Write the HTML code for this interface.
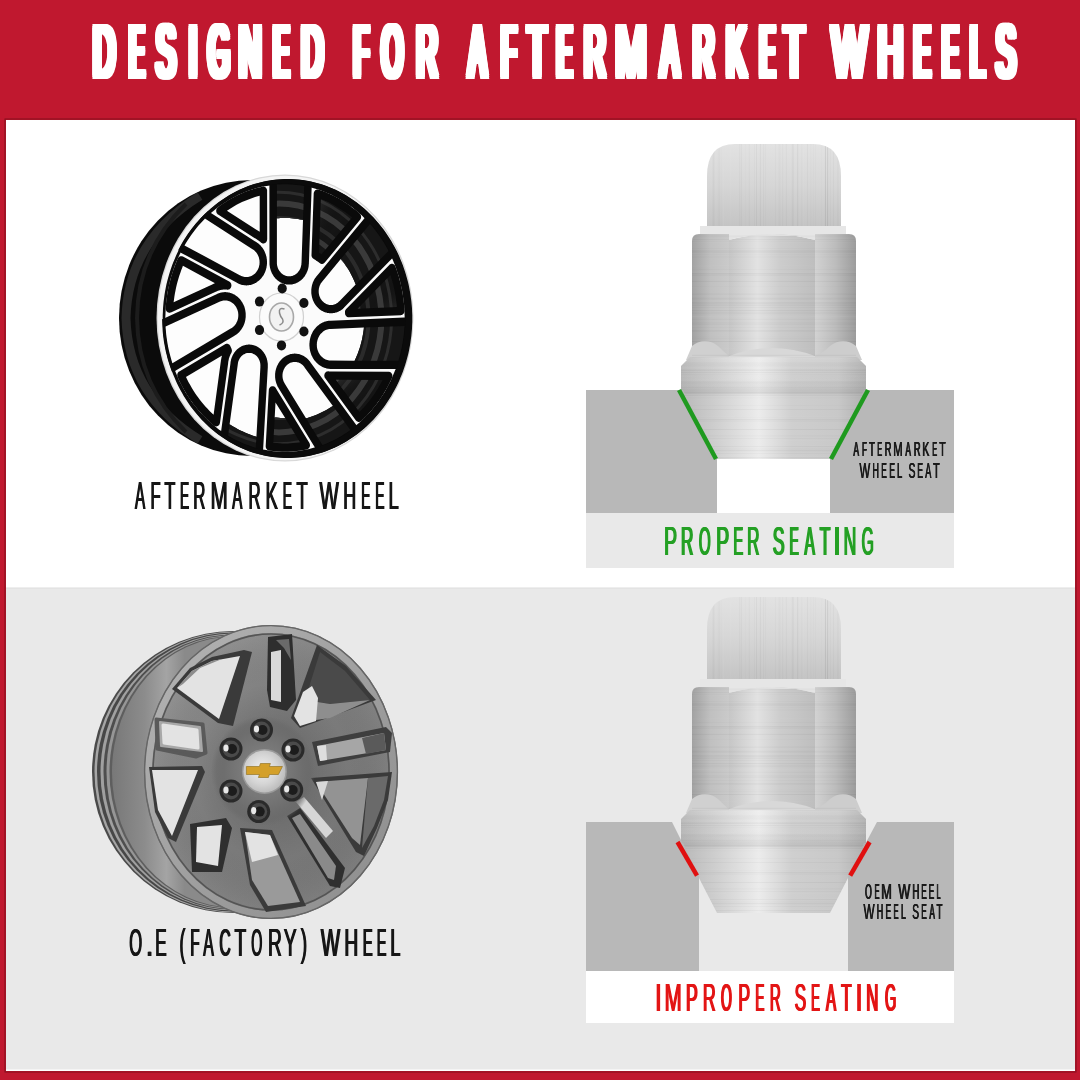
<!DOCTYPE html>
<html><head><meta charset="utf-8"><title>Designed for Aftermarket Wheels</title>
<style>
html,body{margin:0;padding:0;}
body{width:1080px;height:1080px;overflow:hidden;background:#c0182f;font-family:"Liberation Sans",sans-serif;}
svg{display:block;font-family:"Liberation Sans",sans-serif;will-change:transform;}
</style></head><body>
<svg width="1080" height="1080" viewBox="0 0 1080 1080">

<defs>

<linearGradient id="w1dk" x1="0" y1="0" x2="1" y2="1"><stop offset="0" stop-color="#3a3a3a" stop-opacity="0.6"/><stop offset="0.5" stop-color="#000" stop-opacity="0"/><stop offset="1" stop-color="#333" stop-opacity="0.5"/></linearGradient>

<linearGradient id="w2lipg" x1="0" y1="0" x2="1" y2="1"><stop offset="0" stop-color="#b4b4b4"/><stop offset="0.5" stop-color="#a0a0a0"/><stop offset="1" stop-color="#8c8c8c"/></linearGradient>
<linearGradient id="w2barrel" x1="0" y1="0" x2="0.3" y2="0"><stop offset="0" stop-color="#787878"/><stop offset="0.45" stop-color="#8c8c8c"/><stop offset="0.75" stop-color="#a4a4a4"/><stop offset="1" stop-color="#8a8a8a"/></linearGradient>
<linearGradient id="w2face" x1="0" y1="0" x2="1" y2="1"><stop offset="0" stop-color="#929292"/><stop offset="0.45" stop-color="#7c7c7c"/><stop offset="1" stop-color="#727272"/></linearGradient>
<radialGradient id="w2shade" cx="0.5" cy="0.5" r="0.5"><stop offset="0.3" stop-color="#000" stop-opacity="0.10"/><stop offset="0.6" stop-color="#000" stop-opacity="0"/><stop offset="0.92" stop-color="#fff" stop-opacity="0.05"/><stop offset="1" stop-color="#000" stop-opacity="0.1"/></radialGradient>
<radialGradient id="w2hub" cx="0.5" cy="0.5" r="0.5"><stop offset="0" stop-color="#888"/><stop offset="0.75" stop-color="#6e6e6e"/><stop offset="0.9" stop-color="#6a6a6a" stop-opacity="0.6"/><stop offset="1" stop-color="#6a6a6a" stop-opacity="0"/></radialGradient>
<radialGradient id="w2cap" cx="0.45" cy="0.45" r="0.6"><stop offset="0" stop-color="#f2f2f2"/><stop offset="0.6" stop-color="#d4d4d4"/><stop offset="1" stop-color="#b8b8b8"/></radialGradient>

 <linearGradient id="capg" x1="0" y1="0" x2="0" y2="1">
  <stop offset="0" stop-color="#e2e2e2"/><stop offset="0.5" stop-color="#d6d6d6"/><stop offset="1" stop-color="#c4c4c4"/>
 </linearGradient>
 <linearGradient id="hexL" x1="0" y1="0" x2="1" y2="0">
  <stop offset="0" stop-color="#a2a2a2"/><stop offset="0.5" stop-color="#c0c0c0"/><stop offset="1" stop-color="#cacaca"/>
 </linearGradient>
 <linearGradient id="hexC" x1="0" y1="0" x2="1" y2="0">
  <stop offset="0" stop-color="#c6c6c6"/><stop offset="0.33" stop-color="#e2e2e2"/><stop offset="0.6" stop-color="#cccccc"/><stop offset="1" stop-color="#bebebe"/>
 </linearGradient>
 <linearGradient id="hexR" x1="0" y1="0" x2="1" y2="0">
  <stop offset="0" stop-color="#d2d2d2"/><stop offset="0.5" stop-color="#bcbcbc"/><stop offset="1" stop-color="#9c9c9c"/>
 </linearGradient>
 <linearGradient id="flg" x1="0" y1="0" x2="1" y2="0">
  <stop offset="0" stop-color="#b8b8b8"/><stop offset="0.2" stop-color="#d0d0d0"/><stop offset="0.42" stop-color="#ececec"/><stop offset="0.6" stop-color="#cfcfcf"/><stop offset="0.85" stop-color="#c8c8c8"/><stop offset="1" stop-color="#b0b0b0"/>
 </linearGradient>
 <linearGradient id="flv" x1="0" y1="0" x2="0" y2="1">
  <stop offset="0" stop-color="#fff" stop-opacity="0.15"/><stop offset="0.5" stop-color="#fff" stop-opacity="0"/><stop offset="1" stop-color="#000" stop-opacity="0.08"/>
 </linearGradient>
 <clipPath id="capclip"><path d="M707,226 L707,176 Q707,144 735,144 L813,144 Q841,144 841,176 L841,226 Z"/></clipPath>
 <clipPath id="bodyclip"><path d="M692,358 L692,241 Q692,234 699,234 L849,234 Q856,234 856,241 L856,358 L866,366 L866,392 L830,460 L717,460 L681,392 L681,366 Z"/></clipPath>
 <g id="nut">
  <!-- cap -->
  <path d="M707,226 L707,176 Q707,144 735,144 L813,144 Q841,144 841,176 L841,226 Z" fill="url(#capg)"/>
  <rect x="700" y="226" width="146" height="10" fill="#e6e6e6"/>
  <!-- hex body -->
  <path d="M692,358 L692,241 Q692,234 699,234 L729,234 L729,358 Z" fill="url(#hexL)"/>
  <path d="M729,358 L729,240 Q772,228 815,240 L815,358 Z" fill="url(#hexC)"/>
  <path d="M815,358 L815,234 L849,234 Q856,234 856,241 L856,358 Z" fill="url(#hexR)"/>
  <path d="M729,240 Q772,228 815,240 L815,236 L729,236 Z" fill="#e4e4e4"/>
  <!-- hex bottom chamfers -->
  <path d="M692,346 Q705,336 718,346 Q724,352 729,356 L729,360 L686,360 Z" fill="#d0d0d0"/>
  <path d="M729,356 Q772,340 815,356 L815,360 L729,360 Z" fill="#d8d8d8"/>
  <path d="M815,356 Q824,352 830,346 Q843,336 856,346 L862,360 L815,360 Z" fill="#cdcdcd"/>
  <!-- flange -->
  <path d="M681,392 L681,366 L690,357 L857,357 L866,366 L866,392 Z" fill="url(#flg)"/>
  <path d="M681,392 L681,366 L690,357 L857,357 L866,366 L866,392 Z" fill="url(#flv)"/>
  <!-- cone -->
  <path d="M681,390 L866,390 L830,460 L717,460 Z" fill="url(#flg)"/>
  <path d="M683,390 L864,390 L862,394 L685,394 Z" fill="#000" fill-opacity="0.06"/>
  <g clip-path="url(#capclip)"><g transform="translate(707,140)"><rect x="31.9" y="0" width="0.7" height="90" fill="#000" opacity="0.034"/><rect x="83.8" y="0" width="0.8" height="90" fill="#000" opacity="0.017"/><rect x="34.8" y="0" width="0.6" height="90" fill="#fff" opacity="0.023"/><rect x="112.1" y="0" width="0.5" height="90" fill="#fff" opacity="0.032"/><rect x="85.1" y="0" width="0.8" height="90" fill="#000" opacity="0.045"/><rect x="90.0" y="0" width="0.7" height="90" fill="#fff" opacity="0.017"/><rect x="40.4" y="0" width="0.6" height="90" fill="#fff" opacity="0.016"/><rect x="96.3" y="0" width="0.9" height="90" fill="#fff" opacity="0.046"/><rect x="52.9" y="0" width="0.9" height="90" fill="#000" opacity="0.043"/><rect x="117.8" y="0" width="0.5" height="90" fill="#000" opacity="0.018"/><rect x="129.4" y="0" width="0.6" height="90" fill="#fff" opacity="0.030"/><rect x="68.0" y="0" width="0.7" height="90" fill="#000" opacity="0.029"/><rect x="78.3" y="0" width="0.9" height="90" fill="#fff" opacity="0.047"/><rect x="114.8" y="0" width="0.5" height="90" fill="#fff" opacity="0.050"/><rect x="115.3" y="0" width="0.7" height="90" fill="#fff" opacity="0.049"/><rect x="95.7" y="0" width="0.7" height="90" fill="#fff" opacity="0.022"/><rect x="38.2" y="0" width="0.9" height="90" fill="#fff" opacity="0.017"/><rect x="11.9" y="0" width="0.5" height="90" fill="#000" opacity="0.043"/><rect x="39.4" y="0" width="0.4" height="90" fill="#fff" opacity="0.042"/><rect x="82.3" y="0" width="0.6" height="90" fill="#fff" opacity="0.017"/><rect x="118.0" y="0" width="0.9" height="90" fill="#000" opacity="0.049"/><rect x="41.5" y="0" width="0.4" height="90" fill="#000" opacity="0.018"/><rect x="26.4" y="0" width="0.5" height="90" fill="#fff" opacity="0.029"/><rect x="5.7" y="0" width="0.9" height="90" fill="#000" opacity="0.045"/><rect x="120.2" y="0" width="0.7" height="90" fill="#000" opacity="0.028"/><rect x="86.3" y="0" width="0.7" height="90" fill="#000" opacity="0.036"/><rect x="126.0" y="0" width="0.8" height="90" fill="#000" opacity="0.033"/><rect x="31.8" y="0" width="0.7" height="90" fill="#fff" opacity="0.026"/><rect x="73.5" y="0" width="0.7" height="90" fill="#000" opacity="0.015"/><rect x="2.7" y="0" width="0.4" height="90" fill="#fff" opacity="0.037"/><rect x="84.1" y="0" width="0.6" height="90" fill="#fff" opacity="0.031"/><rect x="94.7" y="0" width="0.4" height="90" fill="#000" opacity="0.041"/><rect x="90.6" y="0" width="0.6" height="90" fill="#000" opacity="0.049"/><rect x="79.4" y="0" width="0.6" height="90" fill="#000" opacity="0.026"/><rect x="49.5" y="0" width="0.6" height="90" fill="#000" opacity="0.036"/><rect x="103.5" y="0" width="0.8" height="90" fill="#000" opacity="0.016"/><rect x="41.5" y="0" width="0.5" height="90" fill="#fff" opacity="0.023"/><rect x="25.1" y="0" width="0.5" height="90" fill="#fff" opacity="0.030"/><rect x="43.1" y="0" width="0.6" height="90" fill="#fff" opacity="0.027"/><rect x="114.6" y="0" width="0.7" height="90" fill="#000" opacity="0.021"/><rect x="118.6" y="0" width="0.5" height="90" fill="#000" opacity="0.031"/><rect x="71.0" y="0" width="0.8" height="90" fill="#fff" opacity="0.022"/><rect x="24.6" y="0" width="0.7" height="90" fill="#fff" opacity="0.025"/><rect x="108.0" y="0" width="0.5" height="90" fill="#000" opacity="0.027"/><rect x="106.4" y="0" width="0.6" height="90" fill="#000" opacity="0.024"/><rect x="56.2" y="0" width="0.5" height="90" fill="#fff" opacity="0.029"/><rect x="0.6" y="0" width="0.9" height="90" fill="#fff" opacity="0.048"/><rect x="58.2" y="0" width="0.5" height="90" fill="#fff" opacity="0.048"/><rect x="99.9" y="0" width="0.7" height="90" fill="#fff" opacity="0.044"/><rect x="38.7" y="0" width="0.4" height="90" fill="#000" opacity="0.027"/><rect x="78.9" y="0" width="0.4" height="90" fill="#fff" opacity="0.025"/><rect x="121.1" y="0" width="0.8" height="90" fill="#fff" opacity="0.039"/><rect x="120.6" y="0" width="0.8" height="90" fill="#000" opacity="0.035"/><rect x="23.0" y="0" width="0.7" height="90" fill="#fff" opacity="0.025"/><rect x="55.4" y="0" width="0.6" height="90" fill="#fff" opacity="0.048"/><rect x="33.8" y="0" width="0.8" height="90" fill="#000" opacity="0.045"/><rect x="47.1" y="0" width="0.8" height="90" fill="#000" opacity="0.022"/><rect x="23.0" y="0" width="0.8" height="90" fill="#fff" opacity="0.043"/><rect x="110.3" y="0" width="0.8" height="90" fill="#fff" opacity="0.015"/><rect x="6.7" y="0" width="0.7" height="90" fill="#000" opacity="0.024"/><rect x="56.7" y="0" width="0.4" height="90" fill="#fff" opacity="0.032"/><rect x="7.3" y="0" width="0.4" height="90" fill="#000" opacity="0.019"/><rect x="130.6" y="0" width="0.7" height="90" fill="#000" opacity="0.045"/><rect x="42.3" y="0" width="0.7" height="90" fill="#000" opacity="0.026"/><rect x="78.6" y="0" width="0.6" height="90" fill="#000" opacity="0.028"/><rect x="16.6" y="0" width="0.6" height="90" fill="#fff" opacity="0.034"/><rect x="10.7" y="0" width="0.7" height="90" fill="#000" opacity="0.021"/><rect x="104.9" y="0" width="0.7" height="90" fill="#fff" opacity="0.028"/><rect x="57.8" y="0" width="0.8" height="90" fill="#000" opacity="0.028"/><rect x="56.3" y="0" width="0.5" height="90" fill="#000" opacity="0.039"/><rect x="71.8" y="0" width="0.6" height="90" fill="#000" opacity="0.039"/><rect x="57.1" y="0" width="0.6" height="90" fill="#fff" opacity="0.046"/><rect x="120.3" y="0" width="0.6" height="90" fill="#000" opacity="0.043"/><rect x="16.5" y="0" width="0.8" height="90" fill="#fff" opacity="0.043"/><rect x="106.2" y="0" width="0.7" height="90" fill="#fff" opacity="0.038"/><rect x="13.8" y="0" width="0.5" height="90" fill="#000" opacity="0.036"/><rect x="103.8" y="0" width="0.4" height="90" fill="#000" opacity="0.017"/><rect x="118.0" y="0" width="0.8" height="90" fill="#000" opacity="0.021"/><rect x="16.3" y="0" width="0.8" height="90" fill="#fff" opacity="0.045"/><rect x="127.6" y="0" width="0.4" height="90" fill="#fff" opacity="0.035"/><rect x="102.8" y="0" width="0.5" height="90" fill="#fff" opacity="0.033"/><rect x="100.4" y="0" width="0.6" height="90" fill="#000" opacity="0.048"/><rect x="75.6" y="0" width="0.5" height="90" fill="#000" opacity="0.044"/><rect x="33.5" y="0" width="0.6" height="90" fill="#fff" opacity="0.037"/><rect x="49.2" y="0" width="0.6" height="90" fill="#000" opacity="0.029"/><rect x="11.2" y="0" width="0.6" height="90" fill="#fff" opacity="0.033"/><rect x="100.2" y="0" width="0.8" height="90" fill="#fff" opacity="0.021"/><rect x="90.3" y="0" width="0.7" height="90" fill="#000" opacity="0.033"/><rect x="120.3" y="0" width="0.8" height="90" fill="#000" opacity="0.020"/><rect x="122.8" y="0" width="0.8" height="90" fill="#000" opacity="0.033"/></g></g>
  <g clip-path="url(#bodyclip)"><g transform="translate(679,230)"><rect x="0" y="43.2" width="190" height="0.7" fill="#000" opacity="0.024"/><rect x="0" y="73.0" width="190" height="0.9" fill="#fff" opacity="0.023"/><rect x="0" y="68.6" width="190" height="0.8" fill="#000" opacity="0.040"/><rect x="0" y="135.6" width="190" height="0.4" fill="#000" opacity="0.024"/><rect x="0" y="111.2" width="190" height="0.6" fill="#000" opacity="0.028"/><rect x="0" y="74.7" width="190" height="0.9" fill="#000" opacity="0.042"/><rect x="0" y="111.3" width="190" height="0.8" fill="#000" opacity="0.036"/><rect x="0" y="190.6" width="190" height="0.8" fill="#000" opacity="0.034"/><rect x="0" y="198.7" width="190" height="0.9" fill="#fff" opacity="0.029"/><rect x="0" y="108.4" width="190" height="0.8" fill="#000" opacity="0.023"/><rect x="0" y="156.7" width="190" height="0.5" fill="#fff" opacity="0.049"/><rect x="0" y="44.0" width="190" height="0.8" fill="#000" opacity="0.024"/><rect x="0" y="199.2" width="190" height="0.8" fill="#000" opacity="0.046"/><rect x="0" y="72.7" width="190" height="0.4" fill="#fff" opacity="0.030"/><rect x="0" y="21.5" width="190" height="0.6" fill="#000" opacity="0.044"/><rect x="0" y="134.6" width="190" height="0.6" fill="#000" opacity="0.039"/><rect x="0" y="101.2" width="190" height="0.7" fill="#000" opacity="0.032"/><rect x="0" y="221.6" width="190" height="0.5" fill="#000" opacity="0.029"/><rect x="0" y="63.7" width="190" height="0.8" fill="#000" opacity="0.038"/><rect x="0" y="210.8" width="190" height="0.6" fill="#fff" opacity="0.018"/><rect x="0" y="179.2" width="190" height="0.7" fill="#000" opacity="0.042"/><rect x="0" y="151.7" width="190" height="0.8" fill="#000" opacity="0.043"/><rect x="0" y="223.0" width="190" height="0.5" fill="#000" opacity="0.039"/><rect x="0" y="114.6" width="190" height="0.7" fill="#fff" opacity="0.027"/><rect x="0" y="131.4" width="190" height="0.7" fill="#fff" opacity="0.021"/><rect x="0" y="41.6" width="190" height="0.5" fill="#fff" opacity="0.046"/><rect x="0" y="216.2" width="190" height="0.8" fill="#000" opacity="0.020"/><rect x="0" y="138.6" width="190" height="0.6" fill="#fff" opacity="0.034"/><rect x="0" y="72.5" width="190" height="0.8" fill="#000" opacity="0.021"/><rect x="0" y="175.0" width="190" height="0.6" fill="#fff" opacity="0.034"/><rect x="0" y="61.7" width="190" height="0.4" fill="#fff" opacity="0.028"/><rect x="0" y="117.1" width="190" height="0.6" fill="#fff" opacity="0.024"/><rect x="0" y="77.2" width="190" height="0.8" fill="#000" opacity="0.029"/><rect x="0" y="81.9" width="190" height="0.5" fill="#000" opacity="0.045"/><rect x="0" y="23.1" width="190" height="0.8" fill="#fff" opacity="0.019"/><rect x="0" y="42.9" width="190" height="0.8" fill="#000" opacity="0.022"/><rect x="0" y="189.3" width="190" height="0.5" fill="#fff" opacity="0.041"/><rect x="0" y="92.4" width="190" height="0.7" fill="#000" opacity="0.022"/><rect x="0" y="46.9" width="190" height="0.4" fill="#fff" opacity="0.024"/><rect x="0" y="186.3" width="190" height="0.6" fill="#fff" opacity="0.046"/><rect x="0" y="128.2" width="190" height="0.9" fill="#fff" opacity="0.035"/><rect x="0" y="159.3" width="190" height="0.6" fill="#fff" opacity="0.025"/><rect x="0" y="139.5" width="190" height="0.8" fill="#000" opacity="0.040"/><rect x="0" y="153.6" width="190" height="0.6" fill="#000" opacity="0.032"/><rect x="0" y="44.9" width="190" height="0.7" fill="#000" opacity="0.034"/><rect x="0" y="149.9" width="190" height="0.9" fill="#fff" opacity="0.031"/><rect x="0" y="207.0" width="190" height="0.7" fill="#fff" opacity="0.020"/><rect x="0" y="11.7" width="190" height="0.4" fill="#000" opacity="0.028"/><rect x="0" y="125.0" width="190" height="0.8" fill="#000" opacity="0.048"/><rect x="0" y="161.2" width="190" height="0.7" fill="#fff" opacity="0.020"/><rect x="0" y="215.1" width="190" height="0.6" fill="#fff" opacity="0.040"/><rect x="0" y="187.1" width="190" height="0.6" fill="#fff" opacity="0.048"/><rect x="0" y="175.6" width="190" height="0.4" fill="#000" opacity="0.032"/><rect x="0" y="18.1" width="190" height="0.6" fill="#000" opacity="0.022"/><rect x="0" y="162.2" width="190" height="0.7" fill="#000" opacity="0.034"/><rect x="0" y="70.7" width="190" height="0.6" fill="#fff" opacity="0.031"/><rect x="0" y="41.9" width="190" height="0.6" fill="#fff" opacity="0.046"/><rect x="0" y="86.1" width="190" height="0.5" fill="#fff" opacity="0.034"/><rect x="0" y="0.6" width="190" height="0.5" fill="#fff" opacity="0.022"/><rect x="0" y="106.7" width="190" height="0.5" fill="#000" opacity="0.022"/><rect x="0" y="93.7" width="190" height="0.5" fill="#000" opacity="0.021"/><rect x="0" y="39.0" width="190" height="0.4" fill="#000" opacity="0.032"/><rect x="0" y="103.9" width="190" height="0.4" fill="#fff" opacity="0.029"/><rect x="0" y="93.6" width="190" height="0.9" fill="#000" opacity="0.029"/><rect x="0" y="50.8" width="190" height="0.5" fill="#000" opacity="0.018"/><rect x="0" y="144.4" width="190" height="0.4" fill="#000" opacity="0.027"/><rect x="0" y="168.8" width="190" height="0.6" fill="#fff" opacity="0.025"/><rect x="0" y="216.4" width="190" height="0.5" fill="#000" opacity="0.026"/><rect x="0" y="189.0" width="190" height="0.4" fill="#000" opacity="0.037"/><rect x="0" y="158.3" width="190" height="0.4" fill="#fff" opacity="0.049"/><rect x="0" y="7.0" width="190" height="0.4" fill="#000" opacity="0.018"/><rect x="0" y="12.5" width="190" height="0.5" fill="#fff" opacity="0.038"/><rect x="0" y="225.9" width="190" height="0.9" fill="#fff" opacity="0.032"/><rect x="0" y="218.1" width="190" height="0.7" fill="#000" opacity="0.016"/><rect x="0" y="219.6" width="190" height="0.8" fill="#000" opacity="0.018"/><rect x="0" y="26.6" width="190" height="0.7" fill="#000" opacity="0.029"/><rect x="0" y="215.4" width="190" height="0.8" fill="#fff" opacity="0.021"/><rect x="0" y="193.9" width="190" height="0.6" fill="#fff" opacity="0.034"/><rect x="0" y="96.2" width="190" height="0.6" fill="#fff" opacity="0.023"/><rect x="0" y="62.5" width="190" height="0.7" fill="#fff" opacity="0.021"/><rect x="0" y="164.9" width="190" height="0.5" fill="#000" opacity="0.029"/><rect x="0" y="164.9" width="190" height="0.8" fill="#000" opacity="0.016"/><rect x="0" y="157.1" width="190" height="0.8" fill="#000" opacity="0.018"/><rect x="0" y="149.0" width="190" height="0.6" fill="#fff" opacity="0.046"/><rect x="0" y="208.1" width="190" height="0.6" fill="#000" opacity="0.041"/><rect x="0" y="16.7" width="190" height="0.5" fill="#fff" opacity="0.029"/><rect x="0" y="132.0" width="190" height="0.7" fill="#000" opacity="0.019"/><rect x="0" y="55.8" width="190" height="0.7" fill="#000" opacity="0.017"/><rect x="0" y="135.8" width="190" height="0.9" fill="#000" opacity="0.015"/><rect x="0" y="51.1" width="190" height="0.8" fill="#000" opacity="0.035"/><rect x="0" y="140.2" width="190" height="0.5" fill="#000" opacity="0.043"/><rect x="0" y="41.2" width="190" height="0.5" fill="#fff" opacity="0.018"/><rect x="0" y="5.6" width="190" height="0.8" fill="#000" opacity="0.049"/><rect x="0" y="19.9" width="190" height="0.8" fill="#000" opacity="0.031"/><rect x="0" y="142.8" width="190" height="0.8" fill="#fff" opacity="0.037"/><rect x="0" y="80.3" width="190" height="0.5" fill="#000" opacity="0.036"/><rect x="0" y="193.8" width="190" height="0.5" fill="#fff" opacity="0.036"/><rect x="0" y="125.1" width="190" height="0.4" fill="#fff" opacity="0.031"/><rect x="0" y="80.3" width="190" height="0.7" fill="#000" opacity="0.032"/><rect x="0" y="170.6" width="190" height="0.7" fill="#fff" opacity="0.030"/><rect x="0" y="49.7" width="190" height="0.6" fill="#fff" opacity="0.027"/><rect x="0" y="100.0" width="190" height="0.5" fill="#000" opacity="0.018"/><rect x="0" y="216.0" width="190" height="0.9" fill="#fff" opacity="0.040"/><rect x="0" y="142.0" width="190" height="0.6" fill="#000" opacity="0.048"/><rect x="0" y="219.9" width="190" height="0.6" fill="#fff" opacity="0.047"/><rect x="0" y="179.4" width="190" height="0.9" fill="#fff" opacity="0.029"/><rect x="0" y="67.8" width="190" height="0.4" fill="#000" opacity="0.048"/><rect x="0" y="167.6" width="190" height="0.7" fill="#000" opacity="0.025"/><rect x="0" y="9.4" width="190" height="0.6" fill="#000" opacity="0.041"/><rect x="0" y="80.0" width="190" height="0.5" fill="#fff" opacity="0.041"/><rect x="0" y="24.0" width="190" height="0.4" fill="#000" opacity="0.025"/><rect x="0" y="35.5" width="190" height="0.9" fill="#fff" opacity="0.042"/><rect x="0" y="227.3" width="190" height="0.5" fill="#000" opacity="0.046"/><rect x="0" y="72.4" width="190" height="0.7" fill="#000" opacity="0.031"/><rect x="0" y="83.5" width="190" height="0.6" fill="#000" opacity="0.045"/><rect x="0" y="205.7" width="190" height="0.5" fill="#000" opacity="0.043"/><rect x="0" y="187.1" width="190" height="0.7" fill="#000" opacity="0.015"/><rect x="0" y="124.3" width="190" height="0.5" fill="#000" opacity="0.021"/><rect x="0" y="178.6" width="190" height="0.8" fill="#fff" opacity="0.031"/><rect x="0" y="227.2" width="190" height="0.4" fill="#000" opacity="0.016"/><rect x="0" y="100.3" width="190" height="0.7" fill="#000" opacity="0.027"/><rect x="0" y="21.8" width="190" height="0.8" fill="#000" opacity="0.026"/><rect x="0" y="97.0" width="190" height="0.6" fill="#000" opacity="0.024"/><rect x="0" y="145.6" width="190" height="0.8" fill="#fff" opacity="0.039"/><rect x="0" y="57.4" width="190" height="0.8" fill="#fff" opacity="0.020"/><rect x="0" y="118.0" width="190" height="0.5" fill="#fff" opacity="0.044"/><rect x="0" y="39.1" width="190" height="0.8" fill="#fff" opacity="0.016"/><rect x="0" y="210.2" width="190" height="0.9" fill="#fff" opacity="0.031"/><rect x="0" y="188.9" width="190" height="0.7" fill="#000" opacity="0.036"/><rect x="0" y="39.6" width="190" height="0.9" fill="#fff" opacity="0.021"/><rect x="0" y="126.9" width="190" height="0.6" fill="#000" opacity="0.029"/><rect x="0" y="186.3" width="190" height="0.5" fill="#fff" opacity="0.031"/><rect x="0" y="73.1" width="190" height="0.8" fill="#000" opacity="0.033"/><rect x="0" y="192.0" width="190" height="0.4" fill="#fff" opacity="0.048"/><rect x="0" y="133.3" width="190" height="0.5" fill="#000" opacity="0.034"/><rect x="0" y="164.6" width="190" height="0.7" fill="#000" opacity="0.047"/><rect x="0" y="86.1" width="190" height="0.9" fill="#fff" opacity="0.033"/><rect x="0" y="149.3" width="190" height="0.5" fill="#fff" opacity="0.022"/><rect x="0" y="88.9" width="190" height="0.5" fill="#000" opacity="0.044"/><rect x="0" y="220.4" width="190" height="0.6" fill="#000" opacity="0.048"/></g></g>
 </g>
</defs>

<text id="tx1" y="77.00" font-size="74.57" font-weight="normal" fill="#fff"><tspan x="93.32" textLength="21.83" lengthAdjust="spacingAndGlyphs">D</tspan><tspan x="129.43" textLength="14.40" lengthAdjust="spacingAndGlyphs">E</tspan><tspan x="156.29" textLength="19.23" lengthAdjust="spacingAndGlyphs">S</tspan><tspan x="189.13" textLength="7.75" lengthAdjust="spacingAndGlyphs">I</tspan><tspan x="208.32" textLength="21.33" lengthAdjust="spacingAndGlyphs">G</tspan><tspan x="238.96" textLength="22.37" lengthAdjust="spacingAndGlyphs">N</tspan><tspan x="273.75" textLength="15.01" lengthAdjust="spacingAndGlyphs">E</tspan><tspan x="301.53" textLength="21.70" lengthAdjust="spacingAndGlyphs">D</tspan> <tspan x="353.84" textLength="14.62" lengthAdjust="spacingAndGlyphs">F</tspan><tspan x="381.61" textLength="21.19" lengthAdjust="spacingAndGlyphs">O</tspan><tspan x="416.62" textLength="20.92" lengthAdjust="spacingAndGlyphs">R</tspan> <tspan x="468.75" textLength="17.30" lengthAdjust="spacingAndGlyphs">A</tspan><tspan x="501.55" textLength="14.50" lengthAdjust="spacingAndGlyphs">F</tspan><tspan x="527.82" textLength="18.58" lengthAdjust="spacingAndGlyphs">T</tspan><tspan x="557.23" textLength="14.40" lengthAdjust="spacingAndGlyphs">E</tspan><tspan x="584.40" textLength="21.16" lengthAdjust="spacingAndGlyphs">R</tspan><tspan x="615.46" textLength="30.88" lengthAdjust="spacingAndGlyphs">M</tspan><tspan x="660.75" textLength="18.01" lengthAdjust="spacingAndGlyphs">A</tspan><tspan x="693.22" textLength="20.92" lengthAdjust="spacingAndGlyphs">R</tspan><tspan x="726.48" textLength="19.65" lengthAdjust="spacingAndGlyphs">K</tspan><tspan x="760.19" textLength="14.34" lengthAdjust="spacingAndGlyphs">E</tspan><tspan x="784.19" textLength="19.34" lengthAdjust="spacingAndGlyphs">T</tspan> <tspan x="831.94" textLength="34.89" lengthAdjust="spacingAndGlyphs">W</tspan><tspan x="877.74" textLength="25.21" lengthAdjust="spacingAndGlyphs">H</tspan><tspan x="914.26" textLength="15.75" lengthAdjust="spacingAndGlyphs">E</tspan><tspan x="942.35" textLength="15.88" lengthAdjust="spacingAndGlyphs">E</tspan><tspan x="970.40" textLength="14.25" lengthAdjust="spacingAndGlyphs">L</tspan><tspan x="996.29" textLength="19.23" lengthAdjust="spacingAndGlyphs">S</tspan></text>
<use href="#tx1" x="-3.20" y="-1.90"/>
<use href="#tx1" x="-2.40" y="-1.90"/>
<use href="#tx1" x="-1.60" y="-1.90"/>
<use href="#tx1" x="-0.80" y="-1.90"/>
<use href="#tx1" x="0.00" y="-1.90"/>
<use href="#tx1" x="0.80" y="-1.90"/>
<use href="#tx1" x="1.60" y="-1.90"/>
<use href="#tx1" x="2.40" y="-1.90"/>
<use href="#tx1" x="3.20" y="-1.90"/>
<use href="#tx1" x="-3.20" y="0.00"/>
<use href="#tx1" x="-2.40" y="0.00"/>
<use href="#tx1" x="-1.60" y="0.00"/>
<use href="#tx1" x="-0.80" y="0.00"/>
<use href="#tx1" x="0.80" y="0.00"/>
<use href="#tx1" x="1.60" y="0.00"/>
<use href="#tx1" x="2.40" y="0.00"/>
<use href="#tx1" x="3.20" y="0.00"/>
<use href="#tx1" x="-3.20" y="1.90"/>
<use href="#tx1" x="-2.40" y="1.90"/>
<use href="#tx1" x="-1.60" y="1.90"/>
<use href="#tx1" x="-0.80" y="1.90"/>
<use href="#tx1" x="0.00" y="1.90"/>
<use href="#tx1" x="0.80" y="1.90"/>
<use href="#tx1" x="1.60" y="1.90"/>
<use href="#tx1" x="2.40" y="1.90"/>
<use href="#tx1" x="3.20" y="1.90"/>
<rect x="6" y="120" width="1069" height="468" fill="#fff"/>
<rect x="6" y="588" width="1069" height="483" fill="#e9e9e9"/>
<rect x="6" y="1069.5" width="1069" height="1.5" fill="#fff"/>
<rect x="6" y="587.5" width="1069" height="1" fill="#dedede"/>
<rect x="5" y="119" width="1071" height="953" fill="none" stroke="#5a0a12" stroke-width="1" opacity="0.6"/>
<rect x="586" y="513" width="368" height="55" fill="#e9e9e9"/>
<use href="#nut" transform="translate(0,0)"/>
<path d="M586,390 L679,390 L716,459 L717,459 L717,513 L586,513 Z" fill="#b8b8b8"/>
<path d="M954,390 L868,390 L830,459 L830,513 L954,513 Z" fill="#b8b8b8"/>
<rect x="717" y="459" width="113" height="54" fill="#fff"/>
<path d="M679,390 L716,459" stroke="#1f9a1f" stroke-width="4.5"/>
<path d="M868,390 L831,459" stroke="#1f9a1f" stroke-width="4.5"/>
<text id="tx2" y="455.90" font-size="20.06" font-weight="normal" fill="#1a1a1a"><tspan x="853.38" textLength="5.63" lengthAdjust="spacingAndGlyphs">A</tspan><tspan x="861.93" textLength="5.00" lengthAdjust="spacingAndGlyphs">F</tspan><tspan x="868.98" textLength="5.94" lengthAdjust="spacingAndGlyphs">T</tspan><tspan x="877.29" textLength="4.92" lengthAdjust="spacingAndGlyphs">E</tspan><tspan x="884.74" textLength="6.69" lengthAdjust="spacingAndGlyphs">R</tspan><tspan x="893.28" textLength="9.34" lengthAdjust="spacingAndGlyphs">M</tspan><tspan x="905.38" textLength="5.53" lengthAdjust="spacingAndGlyphs">A</tspan><tspan x="913.84" textLength="6.69" lengthAdjust="spacingAndGlyphs">R</tspan><tspan x="922.34" textLength="6.98" lengthAdjust="spacingAndGlyphs">K</tspan><tspan x="932.29" textLength="4.92" lengthAdjust="spacingAndGlyphs">E</tspan><tspan x="939.26" textLength="6.48" lengthAdjust="spacingAndGlyphs">T</tspan></text>
<use href="#tx2" x="-0.30" y="0.00"/>
<use href="#tx2" x="0.30" y="0.00"/>
<text id="tx3" y="477.80" font-size="21.51" font-weight="normal" fill="#1a1a1a"><tspan x="859.55" textLength="10.69" lengthAdjust="spacingAndGlyphs">W</tspan><tspan x="872.57" textLength="6.46" lengthAdjust="spacingAndGlyphs">H</tspan><tspan x="881.32" textLength="5.54" lengthAdjust="spacingAndGlyphs">E</tspan><tspan x="889.42" textLength="5.54" lengthAdjust="spacingAndGlyphs">E</tspan><tspan x="897.07" textLength="4.92" lengthAdjust="spacingAndGlyphs">L</tspan> <tspan x="908.53" textLength="6.95" lengthAdjust="spacingAndGlyphs">S</tspan><tspan x="917.42" textLength="5.54" lengthAdjust="spacingAndGlyphs">E</tspan><tspan x="925.28" textLength="6.04" lengthAdjust="spacingAndGlyphs">A</tspan><tspan x="933.16" textLength="6.48" lengthAdjust="spacingAndGlyphs">T</tspan></text>
<use href="#tx3" x="-0.30" y="0.00"/>
<use href="#tx3" x="0.30" y="0.00"/>
<text id="tx4" y="554.70" font-size="39.97" font-weight="normal" fill="#24a024"><tspan x="664.11" textLength="12.91" lengthAdjust="spacingAndGlyphs">P</tspan><tspan x="680.99" textLength="12.41" lengthAdjust="spacingAndGlyphs">R</tspan><tspan x="698.89" textLength="11.74" lengthAdjust="spacingAndGlyphs">O</tspan><tspan x="716.31" textLength="12.91" lengthAdjust="spacingAndGlyphs">P</tspan><tspan x="733.39" textLength="9.85" lengthAdjust="spacingAndGlyphs">E</tspan><tspan x="747.09" textLength="12.41" lengthAdjust="spacingAndGlyphs">R</tspan> <tspan x="772.70" textLength="11.82" lengthAdjust="spacingAndGlyphs">S</tspan><tspan x="789.56" textLength="9.23" lengthAdjust="spacingAndGlyphs">E</tspan><tspan x="804.57" textLength="10.36" lengthAdjust="spacingAndGlyphs">A</tspan><tspan x="819.71" textLength="10.59" lengthAdjust="spacingAndGlyphs">T</tspan><tspan x="833.23" textLength="7.45" lengthAdjust="spacingAndGlyphs">I</tspan><tspan x="843.66" textLength="12.67" lengthAdjust="spacingAndGlyphs">N</tspan><tspan x="861.61" textLength="12.15" lengthAdjust="spacingAndGlyphs">G</tspan></text>
<use href="#tx4" x="-0.70" y="0.00"/>
<use href="#tx4" x="0.70" y="0.00"/>
<rect x="586" y="971" width="368" height="52" fill="#fff"/>
<use href="#nut" transform="translate(0,453)"/>
<path d="M586,822 L672,822 L699,876 L699,971 L586,971 Z" fill="#b8b8b8"/>
<path d="M954,822 L877,822 L848,876 L848,971 L954,971 Z" fill="#b8b8b8"/>
<path d="M677.5,842 L697,875.6" stroke="#e01010" stroke-width="4.5"/>
<path d="M869.6,842 L850.2,875.6" stroke="#e01010" stroke-width="4.5"/>
<text id="tx5" y="898.90" font-size="21.51" font-weight="normal" fill="#1a1a1a"><tspan x="865.09" textLength="6.72" lengthAdjust="spacingAndGlyphs">O</tspan><tspan x="874.59" textLength="4.92" lengthAdjust="spacingAndGlyphs">E</tspan><tspan x="881.15" textLength="10.71" lengthAdjust="spacingAndGlyphs">M</tspan> <tspan x="898.34" textLength="12.00" lengthAdjust="spacingAndGlyphs">W</tspan><tspan x="912.41" textLength="6.98" lengthAdjust="spacingAndGlyphs">H</tspan><tspan x="921.32" textLength="5.54" lengthAdjust="spacingAndGlyphs">E</tspan><tspan x="928.72" textLength="5.54" lengthAdjust="spacingAndGlyphs">E</tspan><tspan x="936.62" textLength="3.91" lengthAdjust="spacingAndGlyphs">L</tspan></text>
<use href="#tx5" x="-0.30" y="0.00"/>
<use href="#tx5" x="0.30" y="0.00"/>
<text id="tx6" y="918.80" font-size="21.51" font-weight="normal" fill="#1a1a1a"><tspan x="863.55" textLength="11.09" lengthAdjust="spacingAndGlyphs">W</tspan><tspan x="876.77" textLength="6.46" lengthAdjust="spacingAndGlyphs">H</tspan><tspan x="885.62" textLength="5.54" lengthAdjust="spacingAndGlyphs">E</tspan><tspan x="893.59" textLength="4.92" lengthAdjust="spacingAndGlyphs">E</tspan><tspan x="900.93" textLength="4.54" lengthAdjust="spacingAndGlyphs">L</tspan> <tspan x="912.23" textLength="6.84" lengthAdjust="spacingAndGlyphs">S</tspan><tspan x="921.32" textLength="5.54" lengthAdjust="spacingAndGlyphs">E</tspan><tspan x="929.38" textLength="5.43" lengthAdjust="spacingAndGlyphs">A</tspan><tspan x="936.59" textLength="5.83" lengthAdjust="spacingAndGlyphs">T</tspan></text>
<use href="#tx6" x="-0.30" y="0.00"/>
<use href="#tx6" x="0.30" y="0.00"/>
<text id="tx7" y="1011.00" font-size="39.24" font-weight="normal" fill="#e31515"><tspan x="655.12" textLength="6.55" lengthAdjust="spacingAndGlyphs">I</tspan><tspan x="664.62" textLength="17.06" lengthAdjust="spacingAndGlyphs">M</tspan><tspan x="685.95" textLength="11.78" lengthAdjust="spacingAndGlyphs">P</tspan><tspan x="702.84" textLength="12.89" lengthAdjust="spacingAndGlyphs">R</tspan><tspan x="721.04" textLength="10.83" lengthAdjust="spacingAndGlyphs">O</tspan><tspan x="738.35" textLength="11.78" lengthAdjust="spacingAndGlyphs">P</tspan><tspan x="755.53" textLength="8.74" lengthAdjust="spacingAndGlyphs">E</tspan><tspan x="769.86" textLength="10.95" lengthAdjust="spacingAndGlyphs">R</tspan> <tspan x="794.61" textLength="11.59" lengthAdjust="spacingAndGlyphs">S</tspan><tspan x="811.13" textLength="8.74" lengthAdjust="spacingAndGlyphs">E</tspan><tspan x="826.07" textLength="10.06" lengthAdjust="spacingAndGlyphs">A</tspan><tspan x="841.32" textLength="10.26" lengthAdjust="spacingAndGlyphs">T</tspan><tspan x="855.82" textLength="6.55" lengthAdjust="spacingAndGlyphs">I</tspan><tspan x="866.22" textLength="12.15" lengthAdjust="spacingAndGlyphs">N</tspan><tspan x="884.98" textLength="11.20" lengthAdjust="spacingAndGlyphs">G</tspan></text>
<use href="#tx7" x="-0.70" y="0.00"/>
<use href="#tx7" x="0.70" y="0.00"/>
<text id="tx8" y="509.40" font-size="39.68" font-weight="normal" fill="#161616"><tspan x="134.97" textLength="10.16" lengthAdjust="spacingAndGlyphs">A</tspan><tspan x="150.54" textLength="10.12" lengthAdjust="spacingAndGlyphs">F</tspan><tspan x="164.50" textLength="10.80" lengthAdjust="spacingAndGlyphs">T</tspan><tspan x="179.98" textLength="9.11" lengthAdjust="spacingAndGlyphs">E</tspan><tspan x="193.32" textLength="12.16" lengthAdjust="spacingAndGlyphs">R</tspan><tspan x="210.50" textLength="17.31" lengthAdjust="spacingAndGlyphs">M</tspan><tspan x="232.27" textLength="10.06" lengthAdjust="spacingAndGlyphs">A</tspan><tspan x="248.42" textLength="12.16" lengthAdjust="spacingAndGlyphs">R</tspan><tspan x="265.48" textLength="12.32" lengthAdjust="spacingAndGlyphs">K</tspan><tspan x="282.66" textLength="9.23" lengthAdjust="spacingAndGlyphs">E</tspan><tspan x="296.40" textLength="10.80" lengthAdjust="spacingAndGlyphs">T</tspan> <tspan x="319.41" textLength="19.26" lengthAdjust="spacingAndGlyphs">W</tspan><tspan x="343.33" textLength="12.93" lengthAdjust="spacingAndGlyphs">H</tspan><tspan x="361.18" textLength="9.11" lengthAdjust="spacingAndGlyphs">E</tspan><tspan x="375.36" textLength="9.23" lengthAdjust="spacingAndGlyphs">E</tspan><tspan x="388.59" textLength="10.22" lengthAdjust="spacingAndGlyphs">L</tspan></text>
<use href="#tx8" x="-0.50" y="0.00"/>
<use href="#tx8" x="0.50" y="0.00"/>
<text id="tx9" y="956.00" font-size="38.66" font-weight="normal" fill="#161616"><tspan x="129.27" textLength="12.88" lengthAdjust="spacingAndGlyphs">O</tspan><tspan x="145.56" textLength="8.17" lengthAdjust="spacingAndGlyphs">.</tspan><tspan x="155.24" textLength="11.44" lengthAdjust="spacingAndGlyphs">E</tspan> <tspan x="179.55" textLength="5.90" lengthAdjust="spacingAndGlyphs">(</tspan><tspan x="190.42" textLength="9.12" lengthAdjust="spacingAndGlyphs">F</tspan><tspan x="203.32" textLength="10.56" lengthAdjust="spacingAndGlyphs">A</tspan><tspan x="219.35" textLength="11.40" lengthAdjust="spacingAndGlyphs">C</tspan><tspan x="234.63" textLength="11.45" lengthAdjust="spacingAndGlyphs">T</tspan><tspan x="251.28" textLength="11.05" lengthAdjust="spacingAndGlyphs">O</tspan><tspan x="267.98" textLength="13.87" lengthAdjust="spacingAndGlyphs">R</tspan><tspan x="283.72" textLength="12.95" lengthAdjust="spacingAndGlyphs">Y</tspan><tspan x="300.74" textLength="6.41" lengthAdjust="spacingAndGlyphs">)</tspan> <tspan x="320.86" textLength="19.26" lengthAdjust="spacingAndGlyphs">W</tspan><tspan x="344.38" textLength="13.83" lengthAdjust="spacingAndGlyphs">H</tspan><tspan x="362.85" textLength="9.72" lengthAdjust="spacingAndGlyphs">E</tspan><tspan x="376.75" textLength="9.72" lengthAdjust="spacingAndGlyphs">E</tspan><tspan x="390.38" textLength="9.96" lengthAdjust="spacingAndGlyphs">L</tspan></text>
<use href="#tx9" x="-0.55" y="0.00"/>
<use href="#tx9" x="0.55" y="0.00"/>
<g id="w1"><ellipse cx="252" cy="318" rx="133" ry="138" fill="#0b0b0b"/>
<path d="M200,196 Q128,240 126,318 Q128,396 200,440" fill="none" stroke="#2e2e2e" stroke-width="9" opacity="0.9"/>
<path d="M186,204 Q138,250 137,318 Q138,386 186,432" fill="none" stroke="#1c1c1c" stroke-width="4"/>
<ellipse cx="285" cy="318" rx="128.5" ry="143.5" fill="#d8d8d8"/>
<ellipse cx="285" cy="318" rx="127.2" ry="142.2" fill="#f4f4f4"/>
<ellipse cx="287.5" cy="318.5" rx="124" ry="139.5" fill="#0b0b0b"/>
<ellipse cx="285" cy="318" rx="119.7" ry="133.7" fill="#fbfbfb"/>
<path d="M325.2,378.3 L324.9,378.0 L324.7,377.6 L324.6,377.2 L324.5,376.8 L324.4,376.4 L324.3,376.0 L324.3,375.6 L324.3,375.2 L324.4,374.7 L324.5,374.3 L324.6,373.9 L324.7,373.6 L324.9,373.2 L325.2,372.9 L325.4,372.6 L325.7,372.3 L326.0,372.0 L326.3,371.8 L326.7,371.6 L327.0,371.5 L327.4,371.4 L327.8,371.3 L328.1,371.3 L328.5,371.3 L329.1,371.4 L329.1,371.4 L329.2,371.4 L329.2,371.4 L329.7,371.4 L329.7,371.4 L329.7,371.4 L329.8,371.4 L330.7,371.5 L330.7,371.5 L330.7,371.5 L330.8,371.5 L331.1,371.5 L331.1,371.5 L331.2,371.5 L388.6,371.7 L388.9,371.7 L389.3,371.8 L389.7,371.9 L390.0,372.0 L390.4,372.2 L390.7,372.4 L391.0,372.6 L391.2,372.9 L391.5,373.2 L391.7,373.5 L391.9,373.9 L392.1,374.2 L392.2,374.6 L392.3,375.0 L392.4,375.4 L392.4,375.8 L392.4,376.3 L392.4,376.7 L392.3,377.1 L392.2,377.5 L392.0,377.8 L391.9,378.1 L391.9,378.2 L390.6,381.0 L390.5,381.1 L389.2,383.9 L389.1,383.9 L387.7,386.7 L387.6,386.8 L386.1,389.5 L386.1,389.6 L384.5,392.2 L384.5,392.3 L382.9,394.9 L382.8,395.0 L381.2,397.6 L381.1,397.7 L379.4,400.2 L379.3,400.3 L377.5,402.8 L377.5,402.9 L375.7,405.3 L375.6,405.4 L373.7,407.8 L373.6,407.8 L371.7,410.2 L371.6,410.2 L369.7,412.5 L369.6,412.6 L367.6,414.8 L367.5,414.9 L365.4,417.0 L365.3,417.1 L363.2,419.2 L363.1,419.3 L361.4,420.9 L361.1,421.2 L360.8,421.4 L360.4,421.6 L360.1,421.7 L359.7,421.8 L359.3,421.9 L358.9,421.9 L358.6,421.9 L358.2,421.9 L357.8,421.8 L357.4,421.6 L357.1,421.4 L356.8,421.2 L356.5,421.0 L356.2,420.7 L355.9,420.4Z" fill="#0a0a0a"/>
<path d="M335.8,379.8 L382.6,379.9 L381.3,382.5 L381.3,382.5 L379.8,385.1 L379.8,385.1 L378.3,387.7 L378.3,387.7 L376.8,390.2 L376.8,390.2 L375.2,392.7 L375.2,392.7 L373.5,395.2 L373.5,395.2 L371.8,397.6 L371.8,397.6 L370.0,399.9 L370.0,399.9 L368.2,402.2 L368.2,402.2 L366.3,404.5 L366.3,404.5 L364.4,406.7 L364.4,406.7 L362.4,408.8 L362.4,408.8 L360.4,410.9 L360.4,410.9 L359.4,411.9Z" fill="#151515"/>
<path d="M335.8,379.8 L382.6,379.9 L381.3,382.5 L381.3,382.5 L379.8,385.1 L379.8,385.1 L378.3,387.7 L378.3,387.7 L376.8,390.2 L376.8,390.2 L375.2,392.7 L375.2,392.7 L373.5,395.2 L373.5,395.2 L371.8,397.6 L371.8,397.6 L370.0,399.9 L370.0,399.9 L368.2,402.2 L368.2,402.2 L366.3,404.5 L366.3,404.5 L364.4,406.7 L364.4,406.7 L362.4,408.8 L362.4,408.8 L360.4,410.9 L360.4,410.9 L359.4,411.9Z" fill="url(#w1dk)"/>
<path d="M269.0,450.5 L268.6,450.4 L268.2,450.3 L267.9,450.1 L267.5,449.9 L267.2,449.7 L266.9,449.4 L266.7,449.1 L266.4,448.8 L266.2,448.4 L266.0,448.1 L265.9,447.7 L265.8,447.2 L265.7,446.8 L265.7,446.4 L265.7,446.0 L268.8,390.2 L268.8,389.8 L268.9,389.4 L269.0,389.0 L269.2,388.6 L269.3,388.2 L269.6,387.9 L269.8,387.6 L270.1,387.3 L270.3,387.0 L270.7,386.8 L271.0,386.6 L271.3,386.4 L271.7,386.3 L272.1,386.2 L272.4,386.2 L272.8,386.2 L273.2,386.2 L273.5,386.3 L273.9,386.4 L274.2,386.6 L274.6,386.8 L274.9,387.0 L275.2,387.3 L275.4,387.6 L275.7,387.9 L275.9,388.2 L276.3,389.0 L276.3,389.0 L276.4,389.1 L276.4,389.1 L276.6,389.5 L276.6,389.5 L276.7,389.6 L276.7,389.6 L276.9,389.9 L276.9,390.0 L309.3,442.8 L309.5,443.2 L309.7,443.6 L309.8,444.0 L309.9,444.4 L309.9,444.8 L310.0,445.2 L310.0,445.6 L309.9,446.1 L309.8,446.5 L309.7,446.9 L309.5,447.3 L309.3,447.6 L309.1,448.0 L308.8,448.3 L308.5,448.6 L308.2,448.8 L307.9,449.0 L307.6,449.2 L307.2,449.4 L306.8,449.5 L305.5,449.7 L305.4,449.7 L302.6,450.2 L302.5,450.3 L299.7,450.7 L299.6,450.7 L296.8,451.1 L296.7,451.1 L293.9,451.3 L293.8,451.3 L290.9,451.5 L290.8,451.5 L288.0,451.7 L287.9,451.7 L285.0,451.7 L285.0,451.7 L282.1,451.7 L282.0,451.7 L279.2,451.5 L279.1,451.5 L276.2,451.3 L276.1,451.3 L273.3,451.1 L273.2,451.1 L270.4,450.7 L270.3,450.7Z" fill="#0a0a0a"/>
<path d="M275.5,402.4 L285.2,418.1 L285.0,418.1 L282.8,418.1 L280.6,418.0 L278.4,417.8 L276.2,417.6 L274.7,417.4Z" fill="#fdfdfd"/>
<path d="M274.7,417.4 L276.2,417.6 L278.4,417.8 L280.6,418.0 L282.8,418.1 L285.0,418.1 L285.2,418.1 L300.0,442.3 L298.7,442.5 L298.7,442.5 L296.0,442.8 L296.0,442.8 L293.3,443.1 L293.3,443.1 L290.5,443.3 L290.5,443.3 L287.8,443.4 L287.8,443.4 L285.0,443.4 L285.0,443.4 L282.2,443.4 L282.2,443.4 L279.5,443.3 L279.5,443.3 L276.7,443.1 L276.7,443.1 L274.0,442.8 L274.0,442.8 L273.3,442.7Z" fill="#141414"/>
<path d="M177.6,377.1 L177.5,376.7 L177.4,376.3 L177.3,375.9 L177.3,375.5 L177.2,375.1 L177.3,374.6 L177.3,374.2 L177.4,373.8 L177.6,373.5 L177.7,373.1 L177.9,372.7 L178.1,372.4 L178.4,372.1 L178.7,371.8 L179.0,371.6 L179.3,371.4 L225.1,344.2 L225.4,344.0 L225.8,343.9 L226.1,343.8 L226.5,343.7 L226.9,343.7 L227.2,343.7 L227.6,343.8 L228.0,343.9 L228.3,344.0 L228.6,344.2 L229.0,344.4 L229.3,344.6 L229.5,344.9 L229.8,345.2 L230.0,345.5 L230.2,345.8 L230.4,346.2 L230.6,346.7 L230.6,346.8 L231.3,348.2 L231.3,348.2 L231.5,348.7 L231.6,349.0 L231.7,349.4 L231.8,349.8 L231.9,350.2 L231.9,350.6 L231.9,351.0 L231.8,351.4 L231.8,351.8 L231.6,352.2 L231.5,352.6 L231.3,352.9 L231.0,353.5 L231.0,353.5 L231.0,353.5 L231.0,353.6 L230.7,354.0 L230.7,354.0 L230.7,354.1 L230.7,354.1 L230.3,354.8 L230.3,354.8 L230.3,354.9 L230.3,354.9 L230.1,355.4 L230.1,355.4 L230.1,355.5 L230.0,355.5 L229.8,356.2 L229.7,356.2 L229.7,356.3 L229.7,356.3 L229.5,356.8 L229.5,356.8 L229.5,356.9 L229.5,356.9 L229.2,357.6 L229.2,357.7 L229.2,357.7 L229.2,357.8 L229.1,358.2 L229.1,358.3 L229.0,358.3 L229.0,358.3 L228.8,359.1 L228.8,359.1 L228.8,359.2 L228.8,359.2 L228.7,359.7 L228.7,359.7 L228.7,359.8 L228.7,359.8 L228.5,360.6 L228.5,360.6 L228.5,360.7 L228.5,360.7 L228.4,361.2 L228.4,361.2 L228.4,361.3 L228.4,361.3 L228.2,362.1 L228.2,362.1 L228.2,362.2 L228.2,362.2 L228.2,362.6 L228.2,362.7 L220.0,422.7 L219.9,423.2 L219.8,423.6 L219.6,423.9 L219.5,424.3 L219.3,424.7 L219.0,425.0 L218.8,425.3 L218.5,425.5 L218.2,425.8 L217.8,426.0 L217.5,426.1 L217.1,426.3 L216.8,426.3 L216.4,426.4 L216.0,426.4 L215.6,426.3 L215.3,426.3 L214.9,426.1 L214.6,426.0 L214.2,425.8 L213.9,425.6 L213.7,425.4 L213.7,425.4 L211.4,423.4 L211.3,423.4 L209.1,421.4 L209.0,421.3 L206.9,419.3 L206.8,419.2 L204.7,417.1 L204.6,417.0 L202.5,414.9 L202.4,414.8 L200.4,412.6 L200.3,412.5 L198.4,410.2 L198.3,410.2 L196.4,407.8 L196.3,407.8 L194.4,405.4 L194.3,405.3 L192.5,402.9 L192.5,402.8 L190.7,400.3 L190.6,400.2 L188.9,397.7 L188.8,397.6 L187.2,395.0 L187.1,394.9 L185.5,392.3 L185.5,392.2 L183.9,389.6 L183.9,389.5 L182.4,386.8 L182.3,386.7 L180.9,383.9 L180.8,383.9 L179.5,381.1 L179.4,381.0 L178.1,378.2 L178.1,378.1Z" fill="#0a0a0a"/>
<path d="M185.9,376.9 L222.1,355.4 L222.0,355.6 L222.0,355.6 L222.0,355.7 L222.0,355.7 L222.0,355.8 L222.0,355.8 L221.9,355.9 L221.9,355.9 L221.7,356.7 L221.7,356.8 L221.7,356.8 L221.7,356.9 L221.7,356.9 L221.7,357.0 L221.6,357.0 L221.6,357.1 L221.5,357.6 L221.5,357.6 L221.5,357.7 L221.5,357.7 L221.5,357.8 L221.4,357.8 L221.4,357.9 L221.4,357.9 L221.3,358.7 L221.2,358.8 L221.2,358.8 L221.2,358.9 L221.2,358.9 L221.2,359.0 L221.2,359.0 L221.2,359.1 L221.1,359.6 L221.1,359.7 L221.1,359.7 L221.1,359.8 L221.1,359.8 L221.1,359.9 L221.0,359.9 L221.0,360.0 L220.9,360.8 L220.9,360.8 L220.9,360.9 L220.9,360.9 L220.9,361.0 L220.9,361.0 L220.9,361.1 L220.9,361.2 L220.8,361.5 L220.8,361.5 L213.6,414.7 L211.7,413.0 L211.7,413.0 L209.6,410.9 L209.6,410.9 L207.6,408.8 L207.6,408.8 L205.6,406.7 L205.6,406.7 L203.7,404.5 L203.7,404.5 L201.8,402.2 L201.8,402.2 L200.0,399.9 L200.0,399.9 L198.2,397.6 L198.2,397.6 L196.5,395.2 L196.5,395.2 L194.8,392.7 L194.8,392.7 L193.2,390.2 L193.2,390.2 L191.7,387.7 L191.7,387.7 L190.2,385.1 L190.2,385.1 L188.7,382.5 L188.7,382.5 L187.3,379.8 L187.3,379.8 L186.0,377.1 L186.0,377.1Z" fill="#fdfdfd"/>
<path d="M170.9,312.4 L170.6,312.5 L170.2,312.6 L169.9,312.7 L169.5,312.7 L169.1,312.7 L168.7,312.6 L168.4,312.5 L168.0,312.4 L167.7,312.2 L167.4,312.0 L167.1,311.8 L166.8,311.5 L166.5,311.2 L166.3,310.8 L166.1,310.5 L165.9,310.1 L165.8,309.7 L165.7,309.3 L165.7,308.9 L165.6,308.5 L165.7,308.1 L165.9,304.9 L165.9,304.8 L166.2,301.7 L166.2,301.6 L166.6,298.4 L166.6,298.3 L167.1,295.2 L167.1,295.1 L167.6,292.0 L167.6,291.9 L168.2,288.8 L168.2,288.7 L168.9,285.6 L168.9,285.5 L169.6,282.4 L169.7,282.3 L170.5,279.2 L170.5,279.1 L171.3,276.1 L171.4,276.0 L172.3,273.0 L172.3,272.9 L173.3,269.9 L173.4,269.8 L174.4,266.9 L174.4,266.8 L175.6,263.9 L175.6,263.8 L176.8,260.9 L176.8,260.8 L177.8,258.6 L178.0,258.2 L178.2,257.9 L178.4,257.6 L178.7,257.3 L179.0,257.0 L179.3,256.8 L179.6,256.6 L180.0,256.4 L180.3,256.3 L180.7,256.2 L181.1,256.2 L181.5,256.2 L181.8,256.2 L182.2,256.3 L182.6,256.4 L182.9,256.6 L229.2,281.5 L229.6,281.7 L229.9,282.0 L230.2,282.3 L230.4,282.6 L230.7,282.9 L230.9,283.3 L231.1,283.6 L231.2,284.0 L231.3,284.5 L231.4,284.9 L231.4,285.3 L231.4,285.7 L231.3,286.2 L231.3,286.6 L231.1,287.0 L231.0,287.4 L230.8,287.7 L230.6,288.1 L230.3,288.4 L230.0,288.7 L229.7,289.0 L229.4,289.2 L229.1,289.4 L228.7,289.5 L228.3,289.6 L227.9,289.7 L227.6,289.7 L227.2,289.7 L226.9,289.6 L226.9,289.6 L226.8,289.6 L226.8,289.6 L226.4,289.6 L226.3,289.6 L226.3,289.6 L226.3,289.6 L225.4,289.6 L225.4,289.6 L225.3,289.6 L225.3,289.6 L224.9,289.6 L224.8,289.6 L224.8,289.6 L224.7,289.6 L223.9,289.6 L223.9,289.6 L223.8,289.6 L223.8,289.6 L223.4,289.6 L223.3,289.6 L223.3,289.6 L223.2,289.6 L222.4,289.7 L222.4,289.7 L222.3,289.7 L222.3,289.8 L221.9,289.8 L221.8,289.8 L221.8,289.8 L221.8,289.8 L220.9,290.0 L220.9,290.0 L220.9,290.0 L220.8,290.0 L220.4,290.1 L220.4,290.1 L220.3,290.1 L220.3,290.1 L219.5,290.3 L219.4,290.4 L219.4,290.4 L219.4,290.4 L218.9,290.5 L218.9,290.5 L218.9,290.5 L218.8,290.5 L218.0,290.8 L218.0,290.8 L218.0,290.8 L217.9,290.8 L217.5,291.0 L217.5,291.0 L217.4,291.0 L217.4,291.1 L216.6,291.4 L216.6,291.4 L216.5,291.4 L216.5,291.4 L216.1,291.6 L216.1,291.6 L216.0,291.6 L216.0,291.7 L215.8,291.8 L215.7,291.8Z" fill="#0a0a0a"/>
<path d="M173.6,302.2 L174.0,299.6 L174.0,299.6 L174.4,296.6 L174.4,296.6 L174.9,293.5 L174.9,293.5 L175.5,290.5 L175.5,290.5 L176.1,287.5 L176.1,287.5 L176.8,284.6 L176.8,284.5 L177.6,281.6 L177.6,281.6 L178.4,278.7 L178.4,278.7 L179.3,275.8 L179.3,275.7 L180.3,272.9 L180.3,272.9 L181.3,270.0 L181.3,270.0 L182.4,267.2 L182.4,267.2 L182.9,265.8 L215.1,283.2 L215.1,283.2 L215.0,283.2 L215.0,283.2 L215.0,283.2 L214.9,283.2 L214.9,283.3 L214.8,283.3 L214.8,283.3 L214.0,283.6 L213.9,283.6 L213.9,283.7 L213.9,283.7 L213.8,283.7 L213.8,283.7 L213.7,283.7 L213.7,283.8 L213.3,284.0 L213.2,284.0 L213.2,284.0 L213.1,284.0 L213.1,284.0 L213.0,284.1 L213.0,284.1 L212.9,284.1 L212.8,284.2 L212.8,284.2Z" fill="#fdfdfd"/>
<path d="M218.1,214.6 L217.8,214.4 L217.5,214.1 L217.3,213.8 L217.0,213.5 L216.8,213.2 L216.6,212.8 L216.5,212.4 L216.3,212.0 L216.3,211.6 L216.2,211.2 L216.2,210.8 L216.2,210.4 L216.3,210.0 L216.4,209.6 L216.5,209.2 L216.6,208.8 L216.8,208.5 L217.1,208.2 L217.3,207.9 L217.6,207.6 L217.9,207.3 L218.5,206.9 L218.5,206.8 L220.9,205.1 L221.0,205.0 L223.4,203.3 L223.5,203.3 L226.0,201.7 L226.1,201.6 L228.5,200.1 L228.6,200.1 L231.1,198.6 L231.2,198.5 L233.8,197.2 L233.9,197.1 L236.5,195.8 L236.5,195.7 L239.2,194.5 L239.2,194.5 L241.9,193.3 L242.0,193.2 L244.6,192.1 L244.7,192.1 L247.4,191.1 L247.5,191.0 L250.2,190.1 L250.3,190.0 L253.0,189.2 L253.1,189.1 L255.9,188.3 L256.0,188.3 L258.7,187.6 L258.8,187.5 L261.6,186.9 L261.7,186.9 L262.6,186.7 L263.0,186.6 L263.3,186.6 L263.7,186.6 L264.1,186.7 L264.4,186.8 L264.8,186.9 L265.1,187.1 L265.4,187.3 L265.7,187.6 L266.0,187.9 L266.3,188.2 L266.5,188.5 L266.7,188.9 L266.8,189.3 L267.0,189.6 L267.1,190.1 L267.1,190.5 L267.1,190.9 L267.2,239.2 L267.1,239.6 L267.1,240.0 L267.0,240.4 L266.9,240.8 L266.7,241.2 L266.5,241.5 L266.3,241.9 L266.0,242.2 L265.8,242.5 L265.5,242.7 L265.1,242.9 L264.8,243.1 L264.4,243.3 L264.1,243.4 L263.7,243.4 L263.3,243.4 L262.9,243.4 L262.6,243.4 L262.2,243.3 L261.9,243.1 L261.5,242.9 L261.2,242.7 L260.9,242.5 L260.6,242.2 L260.6,242.2 L260.5,242.1 L260.5,242.1 L260.1,241.8 L260.1,241.8 L260.1,241.8 L260.1,241.7 L259.4,241.2 L259.4,241.2 L259.3,241.2 L259.3,241.1 L258.9,240.9 L258.9,240.8 L258.9,240.8 L258.8,240.8 L258.1,240.3 L258.1,240.3 L258.1,240.3 L258.0,240.2 L257.6,240.0 L257.6,240.0 L257.6,239.9 L257.5,239.9 L257.5,239.9 L257.4,239.8Z" fill="#0a0a0a"/>
<path d="M226.9,210.7 L227.3,210.4 L227.3,210.4 L229.7,208.9 L229.7,208.9 L232.1,207.4 L232.1,207.4 L234.5,206.0 L234.5,206.0 L237.0,204.6 L237.0,204.6 L239.5,203.3 L239.5,203.3 L242.0,202.1 L242.0,202.1 L244.6,201.0 L244.6,201.0 L247.2,199.9 L247.2,199.9 L249.8,198.9 L249.8,198.9 L252.4,198.0 L252.4,198.0 L255.1,197.1 L255.1,197.1 L257.7,196.3 L257.7,196.3 L259.7,195.8 L259.7,231.8Z" fill="#fdfdfd"/>
<path d="M313.7,193.6 L313.7,193.2 L313.8,192.8 L313.9,192.4 L314.1,192.0 L314.3,191.6 L314.5,191.2 L314.7,190.9 L315.0,190.6 L315.3,190.3 L315.6,190.1 L316.0,189.9 L316.3,189.7 L316.7,189.6 L317.1,189.5 L317.5,189.5 L317.8,189.5 L318.2,189.6 L318.6,189.7 L319.7,190.0 L319.8,190.1 L322.5,191.0 L322.6,191.1 L325.3,192.1 L325.4,192.1 L328.0,193.2 L328.1,193.3 L330.8,194.5 L330.8,194.5 L333.5,195.7 L333.5,195.8 L336.1,197.1 L336.2,197.2 L338.8,198.5 L338.9,198.6 L341.4,200.1 L341.5,200.1 L343.9,201.6 L344.0,201.7 L346.5,203.3 L346.6,203.3 L349.0,205.0 L349.1,205.1 L351.5,206.8 L351.5,206.9 L353.9,208.7 L354.0,208.7 L356.3,210.6 L356.3,210.6 L358.6,212.6 L358.7,212.6 L359.7,213.5 L360.0,213.8 L360.2,214.1 L360.4,214.4 L360.6,214.8 L360.8,215.2 L360.9,215.5 L361.0,215.9 L361.1,216.3 L361.1,216.8 L361.1,217.2 L361.1,217.6 L361.0,218.0 L360.9,218.4 L360.7,218.8 L360.5,219.1 L360.3,219.5 L360.1,219.8 L324.8,262.5 L324.5,262.8 L324.2,263.1 L323.9,263.3 L323.6,263.5 L323.2,263.7 L322.9,263.8 L322.5,263.9 L322.1,263.9 L321.8,263.9 L321.4,263.9 L321.0,263.8 L320.7,263.7 L320.3,263.5 L320.0,263.3 L319.7,263.1 L319.7,263.1 L319.6,263.0 L318.4,262.1 L318.4,262.1 L317.2,261.2 L317.2,261.2 L315.9,260.4 L315.9,260.3 L314.7,259.5 L314.6,259.5 L313.5,258.8 L313.1,258.6 L312.8,258.3 L312.6,258.0 L312.3,257.7 L312.1,257.3 L311.9,257.0 L311.7,256.6 L311.6,256.1 L311.5,255.7 L311.5,255.3 L311.5,254.9Z" fill="#0a0a0a"/>
<path d="M319.0,252.7 L320.9,199.2 L322.8,199.9 L322.8,199.9 L325.4,201.0 L325.4,201.0 L328.0,202.1 L328.0,202.1 L330.5,203.3 L330.5,203.3 L333.0,204.6 L333.0,204.6 L335.5,206.0 L335.5,206.0 L337.9,207.4 L337.9,207.4 L340.3,208.9 L340.3,208.9 L342.7,210.4 L342.7,210.4 L345.1,212.0 L345.1,212.0 L347.4,213.7 L347.4,213.7 L349.6,215.5 L349.6,215.5 L351.9,217.3 L351.9,217.3 L352.0,217.4 L321.4,254.4 L321.3,254.3 L321.2,254.2 L321.1,254.2 L321.1,254.1 L319.8,253.3 L319.8,253.3 L319.7,253.2 L319.6,253.2Z" fill="#151515"/>
<path d="M319.0,252.7 L320.9,199.2 L322.8,199.9 L322.8,199.9 L325.4,201.0 L325.4,201.0 L328.0,202.1 L328.0,202.1 L330.5,203.3 L330.5,203.3 L333.0,204.6 L333.0,204.6 L335.5,206.0 L335.5,206.0 L337.9,207.4 L337.9,207.4 L340.3,208.9 L340.3,208.9 L342.7,210.4 L342.7,210.4 L345.1,212.0 L345.1,212.0 L347.4,213.7 L347.4,213.7 L349.6,215.5 L349.6,215.5 L351.9,217.3 L351.9,217.3 L352.0,217.4 L321.4,254.4 L321.3,254.3 L321.2,254.2 L321.1,254.2 L321.1,254.1 L319.8,253.3 L319.8,253.3 L319.7,253.2 L319.6,253.2Z" fill="url(#w1dk)"/>
<path d="M345.0,312.5 L344.9,312.1 L345.0,311.7 L345.0,311.2 L345.1,310.8 L345.3,310.4 L345.4,310.0 L345.7,309.7 L345.9,309.3 L346.2,309.0 L346.2,309.0 L346.2,309.0 L389.3,264.9 L389.6,264.6 L389.9,264.4 L390.2,264.2 L390.6,264.0 L391.0,263.9 L391.3,263.8 L391.7,263.8 L392.1,263.8 L392.5,263.8 L392.9,263.9 L393.2,264.1 L393.6,264.2 L393.9,264.4 L394.2,264.7 L394.5,265.0 L394.8,265.3 L395.0,265.6 L395.2,266.0 L395.4,266.4 L395.6,266.8 L395.6,266.9 L396.6,269.8 L396.7,269.9 L397.7,272.9 L397.7,273.0 L398.6,276.0 L398.7,276.1 L399.5,279.1 L399.5,279.2 L400.3,282.3 L400.4,282.4 L401.1,285.5 L401.1,285.6 L401.8,288.7 L401.8,288.8 L402.4,291.9 L402.4,292.0 L402.9,295.1 L402.9,295.2 L403.4,298.3 L403.4,298.4 L403.8,301.6 L403.8,301.7 L404.1,304.8 L404.1,304.9 L404.4,308.1 L404.4,308.2 L404.5,310.6 L404.5,311.1 L404.5,311.5 L404.4,311.9 L404.3,312.3 L404.1,312.7 L404.0,313.1 L403.7,313.4 L403.5,313.8 L403.2,314.1 L402.9,314.3 L402.6,314.6 L402.3,314.8 L401.9,314.9 L401.6,315.1 L401.2,315.1 L400.8,315.2 L349.0,317.3 L348.6,317.3 L348.2,317.3 L347.9,317.2 L347.5,317.1 L347.2,316.9 L346.9,316.7 L346.6,316.5 L346.3,316.2 L346.0,315.9 L345.8,315.6 L345.6,315.3 L345.4,314.9 L345.2,314.5 L345.1,314.1 L345.1,313.7 L345.0,313.3 L345.0,313.1 L345.0,313.0Z" fill="#0a0a0a"/>
<path d="M357.5,308.7 L390.4,275.0 L390.7,275.7 L390.7,275.8 L391.6,278.7 L391.6,278.7 L392.4,281.6 L392.4,281.6 L393.2,284.5 L393.2,284.6 L393.9,287.5 L393.9,287.5 L394.5,290.5 L394.5,290.5 L395.1,293.5 L395.1,293.5 L395.6,296.6 L395.6,296.6 L396.0,299.6 L396.0,299.6 L396.4,302.6 L396.4,302.7 L396.7,305.7 L396.7,305.7 L396.8,307.0Z" fill="#151515"/>
<path d="M357.5,308.7 L390.4,275.0 L390.7,275.7 L390.7,275.8 L391.6,278.7 L391.6,278.7 L392.4,281.6 L392.4,281.6 L393.2,284.5 L393.2,284.6 L393.9,287.5 L393.9,287.5 L394.5,290.5 L394.5,290.5 L395.1,293.5 L395.1,293.5 L395.6,296.6 L395.6,296.6 L396.0,299.6 L396.0,299.6 L396.4,302.6 L396.4,302.7 L396.7,305.7 L396.7,305.7 L396.8,307.0Z" fill="url(#w1dk)"/>
<path d="M269.5,262.3 L269.4,184.6 L269.5,183.8 L269.6,183.0 L269.8,182.2 L269.9,181.8 L270.0,181.8 L273.0,181.4 L276.0,181.1 L279.0,180.9 L282.0,180.8 L285.0,180.7 L288.0,180.8 L291.0,180.9 L294.0,181.1 L297.0,181.4 L300.0,181.8 L303.0,182.2 L306.0,182.7 L309.0,183.4 L311.4,183.9 L311.4,184.0 L311.6,184.8 L311.6,185.6 L311.7,186.4 L308.9,263.2 L308.9,263.3 L308.9,263.8 L308.8,264.3 L308.7,265.2 L308.7,265.7 L308.6,266.6 L308.5,267.2 L308.3,268.0 L308.2,268.6 L307.9,269.4 L307.8,269.9 L307.5,270.8 L307.3,271.3 L307.0,272.1 L306.7,272.6 L306.4,273.4 L306.1,273.8 L305.7,274.6 L305.4,275.1 L305.0,275.8 L304.7,276.2 L304.2,276.9 L303.8,277.3 L303.3,278.0 L302.9,278.4 L302.4,279.0 L302.0,279.3 L301.4,279.9 L301.0,280.2 L300.3,280.8 L299.9,281.1 L299.2,281.5 L298.8,281.8 L298.1,282.2 L297.7,282.5 L296.9,282.8 L296.5,283.0 L295.7,283.4 L295.3,283.5 L294.5,283.8 L294.0,283.9 L293.3,284.1 L292.8,284.2 L292.0,284.4 L291.5,284.5 L290.7,284.5 L290.2,284.6 L289.4,284.6 L288.9,284.6 L288.1,284.6 L287.7,284.5 L286.9,284.5 L286.4,284.4 L285.6,284.2 L285.1,284.1 L284.3,283.9 L283.9,283.8 L283.1,283.5 L282.6,283.4 L281.9,283.0 L281.4,282.8 L280.7,282.5 L280.3,282.2 L279.5,281.8 L279.1,281.5 L278.4,281.1 L278.0,280.8 L277.4,280.2 L277.0,279.9 L276.4,279.3 L276.0,279.0 L275.4,278.4 L275.1,278.0 L274.5,277.3 L274.2,276.9 L273.7,276.2 L273.4,275.8 L272.9,275.1 L272.7,274.6 L272.2,273.8 L272.0,273.4 L271.6,272.6 L271.4,272.1 L271.1,271.3 L270.9,270.8 L270.6,269.9 L270.5,269.4 L270.2,268.6 L270.1,268.0 L269.9,267.2 L269.8,266.6 L269.7,265.7 L269.6,265.2 L269.5,264.3 L269.5,263.8 L269.5,262.9 L269.5,262.4Z" fill="#0a0a0a"/>
<path d="M301.5,262.9 L301.4,263.5 L301.4,264.4 L301.2,265.3 L301.0,266.2 L300.8,267.0 L300.5,267.9 L300.2,268.7 L299.8,269.5 L299.4,270.2 L298.9,271.0 L298.4,271.6 L297.9,272.3 L297.3,272.9 L296.7,273.5 L296.0,274.0 L295.3,274.5 L294.6,274.9 L293.9,275.3 L293.1,275.6 L292.4,275.9 L291.6,276.1 L290.8,276.2 L290.0,276.3 L289.2,276.3 L288.4,276.3 L287.6,276.2 L286.8,276.1 L286.0,275.9 L285.2,275.6 L284.5,275.3 L283.8,274.9 L283.0,274.5 L282.4,274.0 L281.7,273.5 L281.1,272.9 L280.5,272.3 L280.0,271.6 L279.4,271.0 L279.0,270.2 L278.5,269.5 L278.2,268.7 L277.8,267.9 L277.6,267.0 L277.3,266.2 L277.1,265.3 L277.0,264.4 L276.9,263.5 L276.9,262.6 L276.9,262.3 L276.9,262.3 L276.9,218.3 L278.4,218.2 L280.6,218.0 L282.8,217.9 L285.0,217.9 L287.2,217.9 L289.4,218.0 L291.6,218.2 L293.8,218.4 L296.0,218.7 L298.1,219.0 L300.3,219.4 L302.5,219.8 L303.0,219.9 L301.5,262.9Z" fill="#fdfdfd"/>
<path d="M276.9,184.6 L279.1,184.5 L282.1,184.3 L285.0,184.3 L287.9,184.3 L290.9,184.5 L293.8,184.7 L296.7,184.9 L299.7,185.3 L302.6,185.7 L304.2,186.0 L303.0,219.9 L302.5,219.8 L300.3,219.4 L298.1,219.0 L296.0,218.7 L293.8,218.4 L291.6,218.2 L289.4,218.0 L287.2,217.9 L285.0,217.9 L282.8,217.9 L280.6,218.0 L278.4,218.2 L276.9,218.3Z" fill="#161616"/>
<path d="M344.1,307.6 L343.8,308.0 L343.1,308.6 L342.8,308.9 L342.1,309.4 L341.7,309.7 L341.0,310.2 L340.6,310.5 L339.9,310.9 L339.4,311.1 L338.7,311.5 L338.3,311.7 L337.5,312.0 L337.1,312.2 L336.3,312.5 L335.8,312.6 L335.0,312.8 L334.6,312.9 L333.8,313.1 L333.3,313.1 L332.5,313.2 L332.0,313.2 L331.2,313.3 L330.7,313.3 L329.9,313.2 L329.4,313.2 L328.6,313.1 L328.1,313.1 L327.3,312.9 L326.9,312.8 L326.1,312.6 L325.6,312.5 L324.8,312.2 L324.4,312.0 L323.6,311.7 L323.2,311.5 L322.5,311.1 L322.0,310.9 L321.3,310.5 L320.9,310.2 L320.2,309.7 L319.8,309.4 L319.2,308.9 L318.8,308.6 L318.1,308.0 L317.8,307.6 L317.2,307.0 L316.8,306.6 L316.3,306.0 L316.0,305.6 L315.5,304.9 L315.2,304.4 L314.7,303.7 L314.4,303.3 L314.0,302.5 L313.8,302.0 L313.4,301.2 L313.2,300.8 L312.8,299.9 L312.7,299.4 L312.4,298.6 L312.2,298.1 L312.0,297.2 L311.9,296.7 L311.7,295.8 L311.6,295.3 L311.5,294.4 L311.4,293.9 L311.3,293.0 L311.3,292.4 L311.3,291.5 L311.3,291.0 L311.3,290.1 L311.3,289.6 L311.4,288.7 L311.5,288.1 L311.6,287.2 L311.7,286.7 L311.9,285.8 L312.0,285.3 L312.2,284.4 L312.4,283.9 L312.7,283.1 L312.8,282.6 L313.2,281.8 L313.4,281.3 L313.8,280.5 L314.0,280.0 L314.4,279.3 L314.7,278.8 L315.2,278.1 L315.5,277.7 L316.0,277.0 L316.3,276.5 L316.8,275.9 L364.5,218.2 L365.0,217.7 L365.6,217.2 L366.2,216.7 L366.8,216.4 L367.3,216.1 L367.5,216.3 L369.7,218.6 L371.9,220.9 L374.0,223.3 L376.0,225.8 L378.0,228.3 L380.0,230.9 L381.9,233.5 L383.7,236.2 L385.5,239.0 L387.2,241.7 L388.8,244.6 L390.4,247.4 L391.9,250.3 L393.4,253.3 L394.5,255.8 L394.5,255.9 L394.0,256.5 L393.5,257.1 L344.6,307.1 L344.6,307.1Z" fill="#0a0a0a"/>
<path d="M339.6,301.0 L339.0,301.6 L338.4,302.1 L337.8,302.7 L337.1,303.1 L336.4,303.6 L335.7,303.9 L334.9,304.3 L334.1,304.5 L333.3,304.7 L332.6,304.9 L331.8,305.0 L331.0,305.0 L330.1,305.0 L329.3,304.9 L328.6,304.7 L327.8,304.5 L327.0,304.3 L326.3,303.9 L325.5,303.6 L324.8,303.1 L324.1,302.7 L323.5,302.1 L322.9,301.6 L322.3,301.0 L321.7,300.3 L321.2,299.6 L320.7,298.9 L320.3,298.1 L319.9,297.3 L319.6,296.5 L319.3,295.7 L319.1,294.8 L318.9,293.9 L318.8,293.1 L318.7,292.2 L318.7,291.3 L318.7,290.4 L318.8,289.5 L318.9,288.6 L319.1,287.7 L319.3,286.9 L319.6,286.0 L319.9,285.2 L320.3,284.4 L320.7,283.6 L321.2,282.9 L321.7,282.2 L322.3,281.6 L322.3,281.5 L322.3,281.5 L340.8,259.1 L341.9,260.4 L343.2,262.0 L344.4,263.6 L345.5,265.2 L346.7,266.9 L347.8,268.6 L348.9,270.3 L349.9,272.1 L350.9,273.9 L351.8,275.7 L352.7,277.6 L353.6,279.4 L354.4,281.3 L355.2,283.2 L355.7,284.5 L339.6,301.0Z" fill="#fdfdfd"/>
<path d="M370.0,223.9 L371.7,225.8 L373.7,228.2 L375.6,230.7 L377.5,233.2 L379.3,235.7 L381.1,238.4 L382.8,241.0 L384.5,243.7 L386.1,246.5 L387.7,249.3 L388.5,250.9 L355.7,284.5 L355.2,283.2 L354.4,281.3 L353.6,279.4 L352.7,277.6 L351.8,275.7 L350.9,273.9 L349.9,272.1 L348.9,270.3 L347.8,268.6 L346.7,266.9 L345.5,265.2 L344.4,263.6 L343.2,262.0 L341.9,260.4 L340.8,259.1Z" fill="#161616"/>
<path d="M330.5,320.7 L404.2,317.6 L404.9,317.6 L405.6,317.7 L406.4,317.9 L407.0,318.1 L407.7,318.4 L407.9,318.5 L407.8,321.4 L407.7,324.7 L407.5,328.1 L407.3,331.5 L407.0,334.8 L406.6,338.1 L406.1,341.5 L405.5,344.8 L404.9,348.1 L404.2,351.4 L403.4,354.6 L402.6,357.9 L401.7,361.1 L400.7,364.2 L399.6,367.4 L399.0,369.1 L398.3,369.1 L331.2,368.9 L331.2,368.9 L330.8,368.9 L329.8,368.9 L329.3,368.8 L328.4,368.7 L327.9,368.7 L327.0,368.5 L326.5,368.4 L325.6,368.1 L325.2,368.0 L324.3,367.7 L323.8,367.5 L323.0,367.2 L322.5,367.0 L321.7,366.5 L321.2,366.3 L320.4,365.8 L320.0,365.5 L319.2,365.0 L318.8,364.7 L318.0,364.1 L317.7,363.7 L316.9,363.1 L316.6,362.7 L315.9,362.0 L315.6,361.6 L314.9,360.9 L314.6,360.5 L314.0,359.7 L313.7,359.2 L313.2,358.4 L312.9,357.9 L312.4,357.1 L312.2,356.6 L311.7,355.7 L311.5,355.2 L311.1,354.3 L311.0,353.8 L310.6,352.8 L310.5,352.3 L310.2,351.3 L310.1,350.8 L309.9,349.7 L309.8,349.2 L309.6,348.2 L309.6,347.7 L309.5,346.6 L309.4,346.1 L309.4,345.0 L309.4,344.5 L309.4,343.5 L309.5,342.9 L309.6,341.9 L309.6,341.4 L309.8,340.3 L309.9,339.8 L310.1,338.8 L310.2,338.3 L310.5,337.3 L310.6,336.8 L311.0,335.8 L311.1,335.3 L311.5,334.3 L311.7,333.9 L312.2,332.9 L312.4,332.5 L312.9,331.6 L313.2,331.1 L313.7,330.3 L314.0,329.9 L314.6,329.1 L314.9,328.7 L315.6,327.9 L315.9,327.5 L316.6,326.8 L316.9,326.5 L317.7,325.8 L318.0,325.5 L318.8,324.9 L319.2,324.6 L320.0,324.0 L320.4,323.7 L321.2,323.3 L321.7,323.0 L322.5,322.6 L323.0,322.4 L323.8,322.0 L324.3,321.8 L325.2,321.5 L325.6,321.4 L326.5,321.2 L327.0,321.1 L327.9,320.9 L328.4,320.8 L329.3,320.7 L329.8,320.7 L330.4,320.7Z" fill="#0a0a0a"/>
<path d="M331.2,360.6 L331.0,360.6 L330.1,360.6 L329.1,360.5 L328.2,360.3 L327.3,360.1 L326.4,359.8 L325.6,359.4 L324.7,359.0 L323.9,358.5 L323.1,357.9 L322.4,357.3 L321.7,356.7 L321.0,356.0 L320.3,355.2 L319.8,354.4 L319.2,353.6 L318.7,352.7 L318.3,351.8 L317.9,350.8 L317.6,349.9 L317.3,348.9 L317.1,347.9 L316.9,346.8 L316.9,345.8 L316.8,344.8 L316.9,343.7 L316.9,342.7 L317.1,341.7 L317.3,340.7 L317.6,339.7 L317.9,338.7 L318.3,337.8 L318.7,336.9 L319.2,336.0 L319.8,335.1 L320.3,334.3 L321.0,333.6 L321.7,332.9 L322.4,332.2 L323.1,331.6 L323.9,331.1 L324.7,330.6 L325.6,330.1 L326.4,329.8 L327.3,329.5 L328.2,329.2 L329.1,329.1 L330.1,329.0 L330.8,329.0 L330.8,328.9 L363.9,327.6 L363.8,328.9 L363.5,331.0 L363.2,333.2 L362.8,335.3 L362.4,337.4 L362.0,339.5 L361.5,341.6 L360.9,343.7 L360.4,345.8 L359.7,347.9 L359.0,349.9 L358.3,351.9 L357.6,353.9 L356.7,355.9 L355.9,357.9 L355.0,359.8 L354.6,360.7 L331.2,360.6Z" fill="#fdfdfd"/>
<path d="M404.5,325.9 L404.4,327.8 L404.1,331.1 L403.8,334.4 L403.4,337.6 L402.9,340.9 L402.4,344.1 L401.8,347.3 L401.1,350.5 L400.3,353.7 L399.5,356.8 L398.6,359.9 L398.4,360.8 L354.6,360.7 L355.0,359.8 L355.9,357.9 L356.7,355.9 L357.6,353.9 L358.3,351.9 L359.0,349.9 L359.7,347.9 L360.4,345.8 L360.9,343.7 L361.5,341.6 L362.0,339.5 L362.4,337.4 L362.8,335.3 L363.2,333.2 L363.5,331.0 L363.8,328.9 L363.9,327.6Z" fill="#161616"/>
<path d="M278.5,388.1 L278.3,387.6 L277.9,386.9 L277.6,386.4 L277.2,385.6 L277.0,385.1 L276.7,384.3 L276.5,383.8 L276.2,383.0 L276.1,382.5 L275.8,381.6 L275.7,381.1 L275.5,380.2 L275.4,379.7 L275.3,378.8 L275.2,378.2 L275.1,377.3 L275.1,376.8 L275.1,375.9 L275.1,375.4 L275.1,374.5 L275.1,373.9 L275.2,373.0 L275.3,372.5 L275.4,371.6 L275.5,371.1 L275.7,370.2 L275.8,369.7 L276.1,368.8 L276.2,368.3 L276.5,367.5 L276.7,367.0 L277.0,366.1 L277.2,365.7 L277.6,364.9 L277.9,364.4 L278.3,363.6 L278.5,363.2 L279.0,362.5 L279.3,362.0 L279.8,361.3 L280.1,360.9 L280.7,360.3 L281.0,359.9 L281.6,359.3 L282.0,358.9 L282.6,358.3 L283.0,358.0 L283.6,357.5 L284.0,357.2 L284.7,356.7 L285.2,356.4 L285.9,356.0 L286.3,355.8 L287.0,355.4 L287.5,355.2 L288.2,354.9 L288.7,354.7 L289.5,354.4 L289.9,354.3 L290.7,354.1 L291.2,354.0 L292.0,353.9 L292.5,353.8 L293.3,353.7 L293.7,353.7 L294.5,353.6 L295.0,353.6 L295.8,353.7 L296.3,353.7 L297.1,353.8 L297.6,353.9 L298.4,354.0 L298.9,354.1 L299.7,354.3 L300.1,354.4 L300.9,354.7 L301.4,354.9 L302.1,355.2 L302.6,355.4 L303.3,355.8 L303.7,356.0 L304.4,356.4 L304.9,356.7 L305.5,357.2 L305.9,357.5 L306.6,358.0 L307.0,358.3 L307.6,358.9 L308.0,359.3 L308.6,359.9 L308.9,360.3 L309.4,360.9 L309.8,361.3 L310.3,362.0 L310.4,362.2 L356.1,424.7 L356.6,425.4 L357.0,426.1 L357.3,426.8 L357.5,427.6 L357.7,428.4 L357.7,428.6 L355.8,430.2 L353.3,432.1 L350.7,434.0 L348.2,435.7 L345.6,437.4 L342.9,439.1 L340.2,440.6 L337.5,442.1 L334.8,443.5 L332.0,444.8 L329.2,446.1 L326.4,447.3 L323.5,448.4 L320.7,449.4 L317.8,450.3 L316.9,450.6 L316.7,450.3 L316.3,449.7 L278.8,388.5 L278.8,388.5Z" fill="#0a0a0a"/>
<path d="M285.0,383.9 L284.6,383.3 L284.2,382.5 L283.8,381.7 L283.4,380.9 L283.2,380.0 L282.9,379.2 L282.7,378.3 L282.6,377.4 L282.5,376.5 L282.5,375.6 L282.5,374.7 L282.6,373.8 L282.7,373.0 L282.9,372.1 L283.2,371.2 L283.4,370.4 L283.8,369.6 L284.2,368.8 L284.6,368.0 L285.0,367.3 L285.6,366.6 L286.1,365.9 L286.7,365.3 L287.3,364.8 L288.0,364.2 L288.7,363.8 L289.4,363.3 L290.1,363.0 L290.8,362.6 L291.6,362.4 L292.4,362.2 L293.2,362.0 L294.0,361.9 L294.8,361.9 L295.6,361.9 L296.4,362.0 L297.2,362.2 L298.0,362.4 L298.7,362.6 L299.5,363.0 L300.2,363.3 L300.9,363.8 L301.6,364.2 L302.3,364.8 L302.9,365.3 L303.5,365.9 L304.0,366.6 L304.5,367.3 L304.6,367.4 L304.6,367.4 L332.9,406.0 L332.4,406.3 L330.4,407.6 L328.4,408.8 L326.4,410.0 L324.4,411.1 L322.3,412.1 L320.3,413.1 L318.2,414.1 L316.0,414.9 L313.9,415.8 L311.8,416.5 L309.6,417.2 L307.4,417.9 L306.0,418.2 L285.0,383.9Z" fill="#fdfdfd"/>
<path d="M350.4,430.0 L349.0,431.0 L346.5,432.7 L344.0,434.3 L341.4,435.9 L338.8,437.4 L336.2,438.9 L333.5,440.2 L330.8,441.5 L328.1,442.7 L325.3,443.9 L322.5,445.0 L322.4,445.0 L306.0,418.2 L307.4,417.9 L309.6,417.2 L311.8,416.5 L313.9,415.8 L316.0,414.9 L318.2,414.1 L320.3,413.1 L322.3,412.1 L324.4,411.1 L326.4,410.0 L328.4,408.8 L330.4,407.6 L332.4,406.3 L332.9,406.0Z" fill="#161616"/>
<path d="M230.5,362.6 L230.6,361.7 L230.7,361.2 L230.9,360.4 L231.0,359.9 L231.2,359.1 L231.4,358.6 L231.7,357.8 L231.8,357.3 L232.2,356.5 L232.4,356.0 L232.7,355.3 L233.0,354.8 L233.4,354.1 L233.6,353.7 L234.1,353.0 L234.3,352.6 L234.8,351.9 L235.1,351.5 L235.6,350.9 L236.0,350.5 L236.5,350.0 L236.9,349.6 L237.5,349.1 L237.9,348.8 L238.5,348.3 L238.9,348.0 L239.5,347.5 L239.9,347.3 L240.6,346.9 L241.0,346.6 L241.7,346.3 L242.1,346.1 L242.8,345.8 L243.3,345.6 L244.0,345.4 L244.5,345.2 L245.2,345.1 L245.7,345.0 L246.4,344.8 L246.9,344.7 L247.6,344.7 L248.1,344.6 L248.8,344.6 L249.3,344.6 L250.1,344.6 L250.6,344.7 L251.3,344.7 L251.8,344.8 L252.5,345.0 L253.0,345.1 L253.7,345.2 L254.2,345.4 L254.9,345.6 L255.3,345.8 L256.0,346.1 L256.5,346.3 L257.2,346.6 L257.6,346.9 L258.2,347.3 L258.7,347.5 L259.3,348.0 L259.7,348.3 L260.3,348.8 L260.7,349.1 L261.3,349.6 L261.6,350.0 L262.2,350.5 L262.5,350.9 L263.0,351.5 L263.3,351.9 L263.8,352.6 L264.1,353.0 L264.5,353.7 L264.8,354.1 L265.2,354.8 L265.4,355.3 L265.8,356.0 L266.0,356.5 L266.3,357.3 L266.5,357.8 L266.8,358.6 L266.9,359.1 L267.1,359.9 L267.3,360.4 L267.4,361.2 L267.5,361.7 L267.6,362.6 L267.7,363.1 L267.8,363.9 L267.8,364.5 L267.8,365.3 L267.8,365.8 L267.8,366.7 L267.8,367.2 L267.8,367.4 L267.8,367.4 L263.2,448.2 L263.1,449.0 L263.0,449.8 L262.8,450.6 L262.5,451.3 L262.1,452.0 L261.7,452.7 L261.7,452.8 L261.0,452.6 L258.1,451.9 L255.1,451.2 L252.2,450.3 L249.3,449.4 L246.5,448.4 L243.6,447.3 L240.8,446.1 L238.0,444.8 L235.2,443.5 L232.5,442.1 L229.8,440.6 L227.1,439.1 L224.4,437.4 L221.8,435.7 L220.7,434.9 L220.7,434.3 L230.5,363.0Z" fill="#0a0a0a"/>
<path d="M237.8,364.2 L237.8,363.9 L238.0,363.1 L238.1,362.3 L238.3,361.5 L238.6,360.7 L238.9,360.0 L239.3,359.2 L239.7,358.5 L240.1,357.8 L240.6,357.2 L241.1,356.6 L241.6,356.0 L242.2,355.5 L242.8,355.0 L243.4,354.6 L244.1,354.2 L244.7,353.9 L245.4,353.6 L246.1,353.3 L246.9,353.1 L247.6,353.0 L248.3,352.9 L249.1,352.9 L249.8,352.9 L250.6,353.0 L251.3,353.1 L252.0,353.3 L252.7,353.6 L253.4,353.9 L254.1,354.2 L254.7,354.6 L255.4,355.0 L256.0,355.5 L256.6,356.0 L257.1,356.6 L257.6,357.2 L258.1,357.8 L258.5,358.5 L258.9,359.2 L259.2,360.0 L259.6,360.7 L259.8,361.5 L260.0,362.3 L260.2,363.1 L260.3,363.9 L260.4,364.7 L260.4,365.6 L260.4,366.4 L260.3,366.9 L260.4,366.9 L256.4,436.8 L255.6,436.5 L253.0,435.7 L250.5,434.8 L247.9,433.8 L245.4,432.7 L242.9,431.6 L240.4,430.4 L237.9,429.2 L235.5,427.8 L233.1,426.5 L230.7,425.0 L229.6,424.3 L237.8,364.2Z" fill="#fdfdfd"/>
<path d="M255.8,447.7 L253.1,446.9 L250.3,445.9 L247.5,445.0 L244.7,443.9 L241.9,442.7 L239.2,441.5 L236.5,440.2 L233.8,438.9 L231.2,437.4 L228.6,435.9 L228.1,435.6 L229.6,424.3 L230.7,425.0 L233.1,426.5 L235.5,427.8 L237.9,429.2 L240.4,430.4 L242.9,431.6 L245.4,432.7 L247.9,433.8 L250.5,434.8 L253.0,435.7 L255.6,436.5 L256.4,436.8Z" fill="#161616"/>
<path d="M216.6,294.2 L217.0,294.0 L217.4,293.8 L218.2,293.5 L218.7,293.3 L219.5,293.0 L220.0,292.9 L220.8,292.6 L221.3,292.5 L222.1,292.4 L222.6,292.3 L223.5,292.2 L224.0,292.2 L224.8,292.1 L225.3,292.1 L226.2,292.2 L226.7,292.2 L227.5,292.3 L228.0,292.4 L228.9,292.5 L229.3,292.6 L230.2,292.9 L230.7,293.0 L231.5,293.3 L231.9,293.5 L232.8,293.8 L233.2,294.0 L234.0,294.4 L234.4,294.6 L235.2,295.1 L235.6,295.4 L236.4,295.9 L236.8,296.2 L237.5,296.7 L237.8,297.1 L238.5,297.7 L238.9,298.0 L239.5,298.7 L239.9,299.1 L240.4,299.8 L240.8,300.2 L241.3,301.0 L241.6,301.4 L242.1,302.2 L242.4,302.6 L242.8,303.4 L243.1,303.9 L243.5,304.8 L243.7,305.2 L244.1,306.1 L244.3,306.6 L244.6,307.5 L244.7,308.0 L245.0,309.0 L245.1,309.5 L245.3,310.4 L245.4,311.0 L245.5,311.9 L245.6,312.5 L245.7,313.4 L245.7,314.0 L245.7,314.9 L245.7,315.5 L245.7,316.4 L245.7,317.0 L245.6,317.9 L245.5,318.5 L245.4,319.4 L245.3,320.0 L245.1,320.9 L245.0,321.4 L244.7,322.4 L244.6,322.9 L244.3,323.8 L244.1,324.3 L243.7,325.2 L243.5,325.7 L243.1,326.5 L242.8,327.0 L242.4,327.8 L242.1,328.2 L241.6,329.0 L241.3,329.5 L240.8,330.2 L240.4,330.6 L239.9,331.3 L239.5,331.7 L238.9,332.4 L238.5,332.7 L237.8,333.3 L237.5,333.7 L236.8,334.2 L236.4,334.5 L235.6,335.0 L235.2,335.3 L234.4,335.8 L234.1,335.9 L175.8,370.5 L175.2,370.9 L174.5,371.1 L173.7,371.3 L173.0,371.4 L172.3,371.5 L171.8,371.4 L171.5,370.5 L170.4,367.4 L169.3,364.2 L168.3,361.1 L167.4,357.9 L166.6,354.6 L165.8,351.4 L165.1,348.1 L164.5,344.8 L163.9,341.5 L163.4,338.1 L163.0,334.8 L162.7,331.5 L162.5,328.1 L162.3,324.7 L162.2,321.4 L162.1,319.3 L162.8,318.9 L216.6,294.2Z" fill="#0a0a0a"/>
<path d="M219.5,301.8 L219.5,301.8 L220.0,301.6 L220.8,301.2 L221.7,300.9 L222.5,300.7 L223.4,300.6 L224.2,300.5 L225.1,300.4 L225.9,300.5 L226.8,300.6 L227.7,300.7 L228.5,300.9 L229.3,301.2 L230.1,301.6 L230.9,302.0 L231.7,302.4 L232.4,302.9 L233.1,303.5 L233.8,304.1 L234.4,304.8 L235.0,305.5 L235.6,306.2 L236.1,307.0 L236.5,307.8 L236.9,308.7 L237.3,309.6 L237.6,310.5 L237.9,311.4 L238.1,312.3 L238.2,313.3 L238.3,314.2 L238.3,315.2 L238.3,316.2 L238.2,317.1 L238.1,318.1 L237.9,319.0 L237.6,320.0 L237.3,320.9 L236.9,321.7 L236.5,322.6 L236.1,323.4 L235.6,324.2 L235.0,324.9 L234.4,325.7 L233.8,326.3 L233.1,326.9 L232.4,327.5 L231.7,328.0 L230.9,328.5 L230.7,328.6 L230.7,328.6 L172.4,363.2 L172.3,363.0 L171.4,359.9 L170.5,356.8 L169.7,353.7 L168.9,350.5 L168.2,347.3 L167.6,344.1 L167.1,340.9 L166.6,337.6 L166.2,334.4 L165.9,331.1 L165.6,327.8 L165.6,326.6Z" fill="#fdfdfd"/>
<path d="M237.0,282.8 L181.3,252.9 L180.6,252.5 L180.0,252.0 L179.5,251.5 L178.9,250.9 L178.5,250.2 L178.3,249.9 L179.6,247.4 L181.2,244.6 L182.8,241.7 L184.5,239.0 L186.3,236.2 L188.1,233.5 L190.0,230.9 L192.0,228.3 L194.0,225.8 L196.0,223.3 L198.1,220.9 L200.3,218.6 L202.5,216.3 L204.7,214.1 L207.0,211.9 L208.0,211.1 L208.0,211.1 L208.6,211.4 L256.2,242.1 L256.3,242.1 L256.5,242.2 L256.9,242.5 L257.6,243.0 L258.0,243.3 L258.7,243.8 L259.1,244.2 L259.8,244.8 L260.1,245.1 L260.8,245.8 L261.1,246.2 L261.7,246.9 L262.0,247.3 L262.6,248.1 L262.9,248.5 L263.4,249.3 L263.7,249.7 L264.1,250.5 L264.4,251.0 L264.8,251.9 L265.0,252.4 L265.3,253.2 L265.5,253.7 L265.8,254.6 L266.0,255.2 L266.2,256.1 L266.4,256.6 L266.6,257.5 L266.6,258.1 L266.8,259.0 L266.9,259.6 L266.9,260.5 L267.0,261.1 L267.0,262.0 L267.0,262.6 L267.0,263.5 L266.9,264.1 L266.9,265.1 L266.8,265.6 L266.6,266.5 L266.6,267.1 L266.4,268.0 L266.2,268.5 L266.0,269.5 L265.8,270.0 L265.5,270.9 L265.3,271.4 L265.0,272.3 L264.8,272.8 L264.4,273.6 L264.1,274.1 L263.7,274.9 L263.4,275.4 L262.9,276.1 L262.6,276.6 L262.0,277.3 L261.7,277.7 L261.1,278.4 L260.8,278.8 L260.1,279.5 L259.8,279.8 L259.1,280.4 L258.7,280.8 L258.0,281.3 L257.6,281.6 L256.9,282.1 L256.5,282.4 L255.7,282.9 L255.3,283.1 L254.5,283.5 L254.0,283.7 L253.2,284.1 L252.8,284.2 L251.9,284.5 L251.5,284.7 L250.6,284.9 L250.1,285.0 L249.3,285.1 L248.8,285.2 L247.9,285.3 L247.5,285.3 L246.6,285.4 L246.1,285.4 L245.2,285.3 L244.8,285.3 L243.9,285.2 L243.4,285.1 L242.6,285.0 L242.1,284.9 L241.2,284.7 L240.8,284.5 L239.9,284.2 L239.5,284.1 L238.7,283.7 L238.2,283.5 L237.4,283.1 L237.0,282.9 L237.0,282.9Z" fill="#0a0a0a"/>
<path d="M252.5,249.2 L252.5,249.3 L253.0,249.5 L253.7,250.0 L254.4,250.6 L255.1,251.2 L255.7,251.9 L256.3,252.6 L256.8,253.3 L257.3,254.1 L257.8,254.9 L258.2,255.8 L258.6,256.7 L258.9,257.6 L259.1,258.5 L259.3,259.4 L259.5,260.4 L259.5,261.3 L259.6,262.3 L259.5,263.3 L259.5,264.2 L259.3,265.2 L259.1,266.1 L258.9,267.1 L258.6,268.0 L258.2,268.8 L257.8,269.7 L257.3,270.5 L256.8,271.3 L256.3,272.1 L255.7,272.8 L255.1,273.4 L254.4,274.0 L253.7,274.6 L253.0,275.1 L252.2,275.6 L251.4,276.0 L250.6,276.3 L249.8,276.6 L248.9,276.8 L248.1,277.0 L247.2,277.1 L246.4,277.1 L245.5,277.1 L244.6,277.0 L243.8,276.8 L242.9,276.6 L242.1,276.3 L241.3,276.0 L240.5,275.6 L240.2,275.4 L240.2,275.4 L184.5,245.4 L185.5,243.7 L187.2,241.0 L188.9,238.4 L190.7,235.7 L192.5,233.2 L194.4,230.7 L196.3,228.2 L198.3,225.8 L200.4,223.5 L202.5,221.2 L204.6,218.9 L204.9,218.6Z" fill="#fdfdfd"/>
<clipPath id="w1dclip"><path d="M335.8,379.8 L382.6,379.9 L381.3,382.5 L381.3,382.5 L379.8,385.1 L379.8,385.1 L378.3,387.7 L378.3,387.7 L376.8,390.2 L376.8,390.2 L375.2,392.7 L375.2,392.7 L373.5,395.2 L373.5,395.2 L371.8,397.6 L371.8,397.6 L370.0,399.9 L370.0,399.9 L368.2,402.2 L368.2,402.2 L366.3,404.5 L366.3,404.5 L364.4,406.7 L364.4,406.7 L362.4,408.8 L362.4,408.8 L360.4,410.9 L360.4,410.9 L359.4,411.9ZM274.7,417.4 L276.2,417.6 L278.4,417.8 L280.6,418.0 L282.8,418.1 L285.0,418.1 L285.2,418.1 L300.0,442.3 L298.7,442.5 L298.7,442.5 L296.0,442.8 L296.0,442.8 L293.3,443.1 L293.3,443.1 L290.5,443.3 L290.5,443.3 L287.8,443.4 L287.8,443.4 L285.0,443.4 L285.0,443.4 L282.2,443.4 L282.2,443.4 L279.5,443.3 L279.5,443.3 L276.7,443.1 L276.7,443.1 L274.0,442.8 L274.0,442.8 L273.3,442.7ZM319.0,252.7 L320.9,199.2 L322.8,199.9 L322.8,199.9 L325.4,201.0 L325.4,201.0 L328.0,202.1 L328.0,202.1 L330.5,203.3 L330.5,203.3 L333.0,204.6 L333.0,204.6 L335.5,206.0 L335.5,206.0 L337.9,207.4 L337.9,207.4 L340.3,208.9 L340.3,208.9 L342.7,210.4 L342.7,210.4 L345.1,212.0 L345.1,212.0 L347.4,213.7 L347.4,213.7 L349.6,215.5 L349.6,215.5 L351.9,217.3 L351.9,217.3 L352.0,217.4 L321.4,254.4 L321.3,254.3 L321.2,254.2 L321.1,254.2 L321.1,254.1 L319.8,253.3 L319.8,253.3 L319.7,253.2 L319.6,253.2ZM357.5,308.7 L390.4,275.0 L390.7,275.7 L390.7,275.8 L391.6,278.7 L391.6,278.7 L392.4,281.6 L392.4,281.6 L393.2,284.5 L393.2,284.6 L393.9,287.5 L393.9,287.5 L394.5,290.5 L394.5,290.5 L395.1,293.5 L395.1,293.5 L395.6,296.6 L395.6,296.6 L396.0,299.6 L396.0,299.6 L396.4,302.6 L396.4,302.7 L396.7,305.7 L396.7,305.7 L396.8,307.0ZM276.9,184.6 L279.1,184.5 L282.1,184.3 L285.0,184.3 L287.9,184.3 L290.9,184.5 L293.8,184.7 L296.7,184.9 L299.7,185.3 L302.6,185.7 L304.2,186.0 L303.0,219.9 L302.5,219.8 L300.3,219.4 L298.1,219.0 L296.0,218.7 L293.8,218.4 L291.6,218.2 L289.4,218.0 L287.2,217.9 L285.0,217.9 L282.8,217.9 L280.6,218.0 L278.4,218.2 L276.9,218.3ZM370.0,223.9 L371.7,225.8 L373.7,228.2 L375.6,230.7 L377.5,233.2 L379.3,235.7 L381.1,238.4 L382.8,241.0 L384.5,243.7 L386.1,246.5 L387.7,249.3 L388.5,250.9 L355.7,284.5 L355.2,283.2 L354.4,281.3 L353.6,279.4 L352.7,277.6 L351.8,275.7 L350.9,273.9 L349.9,272.1 L348.9,270.3 L347.8,268.6 L346.7,266.9 L345.5,265.2 L344.4,263.6 L343.2,262.0 L341.9,260.4 L340.8,259.1ZM404.5,325.9 L404.4,327.8 L404.1,331.1 L403.8,334.4 L403.4,337.6 L402.9,340.9 L402.4,344.1 L401.8,347.3 L401.1,350.5 L400.3,353.7 L399.5,356.8 L398.6,359.9 L398.4,360.8 L354.6,360.7 L355.0,359.8 L355.9,357.9 L356.7,355.9 L357.6,353.9 L358.3,351.9 L359.0,349.9 L359.7,347.9 L360.4,345.8 L360.9,343.7 L361.5,341.6 L362.0,339.5 L362.4,337.4 L362.8,335.3 L363.2,333.2 L363.5,331.0 L363.8,328.9 L363.9,327.6ZM350.4,430.0 L349.0,431.0 L346.5,432.7 L344.0,434.3 L341.4,435.9 L338.8,437.4 L336.2,438.9 L333.5,440.2 L330.8,441.5 L328.1,442.7 L325.3,443.9 L322.5,445.0 L322.4,445.0 L306.0,418.2 L307.4,417.9 L309.6,417.2 L311.8,416.5 L313.9,415.8 L316.0,414.9 L318.2,414.1 L320.3,413.1 L322.3,412.1 L324.4,411.1 L326.4,410.0 L328.4,408.8 L330.4,407.6 L332.4,406.3 L332.9,406.0ZM255.8,447.7 L253.1,446.9 L250.3,445.9 L247.5,445.0 L244.7,443.9 L241.9,442.7 L239.2,441.5 L236.5,440.2 L233.8,438.9 L231.2,437.4 L228.6,435.9 L228.1,435.6 L229.6,424.3 L230.7,425.0 L233.1,426.5 L235.5,427.8 L237.9,429.2 L240.4,430.4 L242.9,431.6 L245.4,432.7 L247.9,433.8 L250.5,434.8 L253.0,435.7 L255.6,436.5 L256.4,436.8Z"/></clipPath>
<g clip-path="url(#w1dclip)">
<ellipse cx="279" cy="318" rx="102.4" ry="114.4" fill="none" stroke="#5a5a5a" stroke-width="6" opacity="0.55"/>
<ellipse cx="279" cy="318" rx="89.6" ry="100.1" fill="none" stroke="#3a3a3a" stroke-width="4" opacity="0.6"/>
<ellipse cx="279" cy="318" rx="112.6" ry="125.8" fill="none" stroke="#444" stroke-width="3" opacity="0.5"/>
<ellipse cx="279" cy="318" rx="79.4" ry="88.7" fill="none" stroke="#777" stroke-width="5" opacity="0.35"/>
</g>
<path d="M412.3,321.9 L412.1,325.3 L412.0,328.8 L411.7,332.2 L411.4,335.6 L410.9,339.0 L410.5,342.3 L409.9,345.7 L409.3,349.0 L408.6,352.4 L407.8,355.7 L406.9,359.0 L406.0,362.2 L405.0,365.5 L403.9,368.7 L402.8,371.9 L401.6,375.0 L400.3,378.1 L399.0,381.2 L397.6,384.2 L396.1,387.2 L394.5,390.2 L392.9,393.1 L391.3,396.0 L389.5,398.8 L387.7,401.6 L385.9,404.3 L384.0,407.0 L382.0,409.6 L380.0,412.1 L377.9,414.6 L375.7,417.1 L373.6,419.5 L371.3,421.8 L369.0,424.1 L366.7,426.3 L364.3,428.4 L361.8,430.5 L359.4,432.5 L356.8,434.4 L354.3,436.3 L351.7,438.1 L349.0,439.8 L346.3,441.5 L343.6,443.0 L340.9,444.5 L338.1,446.0 L335.3,447.3 L332.4,448.6 L329.5,449.8 L326.6,450.9 L323.7,451.9 L320.8,452.9 L317.8,453.7 L314.8,454.5 L311.8,455.2 L308.8,455.9 L305.8,456.4 L302.8,456.9 L299.7,457.3 L296.7,457.5 L293.6,457.8 L290.6,457.9 L287.5,457.9 L284.4,457.9 L281.4,457.8 L278.3,457.5 L275.3,457.3 L272.2,456.9 L269.2,456.4 L266.2,455.9 L263.2,455.2 L260.2,454.5 L257.2,453.7 L254.2,452.9 L251.3,451.9 L248.4,450.9 L245.5,449.8 L242.6,448.6 L239.7,447.3 L236.9,446.0 L234.1,444.5 L231.4,443.0 L228.7,441.5 L226.0,439.8 L223.3,438.1 L220.7,436.3 L218.2,434.4 L215.6,432.5 L213.2,430.5 L210.7,428.4 L208.3,426.3 L206.0,424.1 L203.7,421.8 L201.4,419.5 L199.3,417.1 L197.1,414.6 L195.0,412.1 L193.0,409.6 L191.0,407.0 L189.1,404.3 L187.3,401.6 L185.5,398.8 L183.7,396.0 L182.1,393.1 L180.5,390.2 L178.9,387.2 L177.4,384.2 L176.0,381.2 L174.7,378.1 L173.4,375.0 L172.2,371.9 L171.1,368.7 L170.0,365.5 L169.0,362.2 L168.1,359.0 L167.2,355.7 L166.4,352.4 L165.7,349.0 L165.1,345.7 L164.5,342.3 L164.1,339.0 L163.6,335.6 L163.3,332.2 L163.0,328.8 L162.9,325.3 L162.7,321.9 L162.7,318.5 L162.7,315.1 L162.9,311.7 L163.0,308.2 L163.3,304.8 L163.6,301.4 L164.1,298.0 L164.5,294.7 L165.1,291.3 L165.7,288.0 L166.4,284.6 L167.2,281.3 L168.1,278.0 L169.0,274.8 L170.0,271.5 L171.1,268.3 L172.2,265.1 L173.4,262.0 L174.7,258.9 L176.0,255.8 L177.4,252.8 L178.9,249.8 L180.5,246.8 L182.1,243.9 L183.7,241.0 L185.5,238.2 L187.3,235.4 L189.1,232.7 L191.0,230.0 L193.0,227.4 L195.0,224.9 L197.1,222.4 L199.3,219.9 L201.4,217.5 L203.7,215.2 L206.0,212.9 L208.3,210.7 L210.7,208.6 L213.2,206.5 L215.6,204.5 L218.2,202.6 L220.7,200.7 L223.3,198.9 L226.0,197.2 L228.7,195.5 L231.4,194.0 L234.1,192.5 L236.9,191.0 L239.7,189.7 L242.6,188.4 L245.5,187.2 L248.4,186.1 L251.3,185.1 L254.2,184.1 L257.2,183.3 L260.2,182.5 L263.2,181.8 L266.2,181.1 L269.2,180.6 L272.2,180.1 L275.3,179.7 L278.3,179.5 L281.4,179.2 L284.4,179.1 L287.5,179.1 L290.6,179.1 L293.6,179.2 L296.7,179.5 L299.7,179.7 L302.8,180.1 L305.8,180.6 L308.8,181.1 L311.8,181.8 L314.8,182.5 L317.8,183.3 L320.8,184.1 L323.7,185.1 L326.6,186.1 L329.5,187.2 L332.4,188.4 L335.3,189.7 L338.1,191.0 L340.9,192.5 L343.6,194.0 L346.3,195.5 L349.0,197.2 L351.7,198.9 L354.3,200.7 L356.8,202.6 L359.4,204.5 L361.8,206.5 L364.3,208.6 L366.7,210.7 L369.0,212.9 L371.3,215.2 L373.6,217.5 L375.7,219.9 L377.9,222.4 L380.0,224.9 L382.0,227.4 L384.0,230.0 L385.9,232.7 L387.7,235.4 L389.5,238.2 L391.3,241.0 L392.9,243.9 L394.5,246.8 L396.1,249.8 L397.6,252.8 L399.0,255.8 L400.3,258.9 L401.6,262.0 L402.8,265.1 L403.9,268.3 L405.0,271.5 L406.0,274.8 L406.9,278.0 L407.8,281.3 L408.6,284.6 L409.3,288.0 L409.9,291.3 L410.5,294.7 L410.9,298.0 L411.4,301.4 L411.7,304.8 L412.0,308.2 L412.1,311.7 L412.3,315.1 L412.3,318.5ZM405.3,314.7 L405.2,311.4 L405.0,308.1 L404.7,304.8 L404.4,301.5 L404.0,298.3 L403.5,295.0 L403.0,291.8 L402.4,288.5 L401.7,285.3 L401.0,282.1 L400.1,279.0 L399.2,275.8 L398.3,272.7 L397.3,269.6 L396.2,266.6 L395.0,263.5 L393.8,260.5 L392.5,257.6 L391.1,254.6 L389.7,251.7 L388.2,248.9 L386.7,246.1 L385.0,243.3 L383.4,240.6 L381.6,237.9 L379.9,235.3 L378.0,232.7 L376.1,230.2 L374.2,227.7 L372.1,225.3 L370.1,223.0 L368.0,220.6 L365.8,218.4 L363.6,216.2 L361.3,214.1 L359.0,212.0 L356.7,210.0 L354.3,208.1 L351.8,206.2 L349.4,204.4 L346.9,202.7 L344.3,201.0 L341.7,199.5 L339.1,197.9 L336.4,196.5 L333.8,195.1 L331.0,193.8 L328.3,192.6 L325.5,191.4 L322.7,190.4 L319.9,189.4 L317.1,188.4 L314.2,187.6 L311.4,186.8 L308.5,186.2 L305.6,185.6 L302.7,185.0 L299.7,184.6 L296.8,184.2 L293.9,183.9 L290.9,183.7 L288.0,183.6 L285.0,183.6 L282.0,183.6 L279.1,183.7 L276.1,183.9 L273.2,184.2 L270.3,184.6 L267.3,185.0 L264.4,185.6 L261.5,186.2 L258.6,186.8 L255.8,187.6 L252.9,188.4 L250.1,189.4 L247.3,190.4 L244.5,191.4 L241.7,192.6 L239.0,193.8 L236.2,195.1 L233.6,196.5 L230.9,197.9 L228.3,199.5 L225.7,201.0 L223.1,202.7 L220.6,204.4 L218.2,206.2 L215.7,208.1 L213.3,210.0 L211.0,212.0 L208.7,214.1 L206.4,216.2 L204.2,218.4 L202.0,220.6 L199.9,223.0 L197.9,225.3 L195.8,227.7 L193.9,230.2 L192.0,232.7 L190.1,235.3 L188.4,237.9 L186.6,240.6 L185.0,243.3 L183.3,246.1 L181.8,248.9 L180.3,251.7 L178.9,254.6 L177.5,257.6 L176.2,260.5 L175.0,263.5 L173.8,266.6 L172.7,269.6 L171.7,272.7 L170.8,275.8 L169.9,279.0 L169.0,282.1 L168.3,285.3 L167.6,288.5 L167.0,291.8 L166.5,295.0 L166.0,298.3 L165.6,301.5 L165.3,304.8 L165.0,308.1 L164.8,311.4 L164.7,314.7 L164.7,318.0 L164.7,321.3 L164.8,324.6 L165.0,327.9 L165.3,331.2 L165.6,334.5 L166.0,337.7 L166.5,341.0 L167.0,344.2 L167.6,347.5 L168.3,350.7 L169.0,353.9 L169.9,357.0 L170.8,360.2 L171.7,363.3 L172.7,366.4 L173.8,369.4 L175.0,372.5 L176.2,375.5 L177.5,378.4 L178.9,381.4 L180.3,384.3 L181.8,387.1 L183.3,389.9 L185.0,392.7 L186.6,395.4 L188.4,398.1 L190.1,400.7 L192.0,403.3 L193.9,405.8 L195.8,408.3 L197.9,410.7 L199.9,413.0 L202.0,415.4 L204.2,417.6 L206.4,419.8 L208.7,421.9 L211.0,424.0 L213.3,426.0 L215.7,427.9 L218.2,429.8 L220.6,431.6 L223.1,433.3 L225.7,435.0 L228.3,436.5 L230.9,438.1 L233.6,439.5 L236.2,440.9 L239.0,442.2 L241.7,443.4 L244.5,444.6 L247.3,445.6 L250.1,446.6 L252.9,447.6 L255.8,448.4 L258.6,449.2 L261.5,449.8 L264.4,450.4 L267.3,451.0 L270.3,451.4 L273.2,451.8 L276.1,452.1 L279.1,452.3 L282.0,452.4 L285.0,452.4 L288.0,452.4 L290.9,452.3 L293.9,452.1 L296.8,451.8 L299.7,451.4 L302.7,451.0 L305.6,450.4 L308.5,449.8 L311.4,449.2 L314.2,448.4 L317.1,447.6 L319.9,446.6 L322.7,445.6 L325.5,444.6 L328.3,443.4 L331.0,442.2 L333.8,440.9 L336.4,439.5 L339.1,438.1 L341.7,436.5 L344.3,435.0 L346.9,433.3 L349.4,431.6 L351.8,429.8 L354.3,427.9 L356.7,426.0 L359.0,424.0 L361.3,421.9 L363.6,419.8 L365.8,417.6 L368.0,415.4 L370.1,413.0 L372.1,410.7 L374.2,408.3 L376.1,405.8 L378.0,403.3 L379.9,400.7 L381.6,398.1 L383.4,395.4 L385.0,392.7 L386.7,389.9 L388.2,387.1 L389.7,384.3 L391.1,381.4 L392.5,378.4 L393.8,375.5 L395.0,372.5 L396.2,369.4 L397.3,366.4 L398.3,363.3 L399.2,360.2 L400.1,357.0 L401.0,353.9 L401.7,350.7 L402.4,347.5 L403.0,344.2 L403.5,341.0 L404.0,337.7 L404.4,334.5 L404.7,331.2 L405.0,327.9 L405.2,324.6 L405.3,321.3 L405.3,318.0Z" fill="#0b0b0b" fill-rule="evenodd"/>
<ellipse cx="281.5" cy="317" rx="22" ry="24" fill="none" stroke="#d0d0d0" stroke-width="1.2"/>
<ellipse cx="259.5" cy="301.6" rx="4.6" ry="5" fill="#111"/>
<ellipse cx="259.5" cy="330.1" rx="4.6" ry="5" fill="#111"/>
<ellipse cx="282.2" cy="288.5" rx="4.6" ry="5" fill="#111"/>
<ellipse cx="281.5" cy="345.4" rx="4.6" ry="5" fill="#111"/>
<ellipse cx="303.9" cy="303" rx="4.6" ry="5" fill="#111"/>
<ellipse cx="303.9" cy="331.5" rx="4.6" ry="5" fill="#111"/>
<ellipse cx="281.5" cy="317" rx="12" ry="14" fill="#f2f2f2" stroke="#a8a8a8" stroke-width="1.6"/>
<path d="M284.5,309 q-6,-2 -5,4 q1,4 3,6 q2,4 -3,6" fill="none" stroke="#8a8a8a" stroke-width="1.5"/></g>
<g id="w2"><ellipse cx="233" cy="772" rx="141" ry="141" fill="#4a4a4a"/>
<ellipse cx="233" cy="772" rx="138.5" ry="140.2" fill="#a6a6a6"/>
<ellipse cx="233" cy="772" rx="136" ry="139.4" fill="#474747"/>
<ellipse cx="233" cy="772" rx="132.5" ry="138.4" fill="#a0a0a0"/>
<ellipse cx="233" cy="772" rx="129.5" ry="137.6" fill="#4e4e4e"/>
<ellipse cx="233" cy="772" rx="126.5" ry="136.8" fill="#969696"/>
<ellipse cx="233" cy="772" rx="123.5" ry="136" fill="#5e5e5e"/>
<ellipse cx="233" cy="772" rx="121" ry="135.4" fill="url(#w2barrel)"/>
<ellipse cx="271" cy="772" rx="127" ry="147" fill="url(#w2face)"/>
<ellipse cx="271" cy="772" rx="127" ry="147" fill="url(#w2shade)"/>
<ellipse cx="271" cy="772" rx="122.5" ry="142.5" fill="none" stroke="url(#w2lipg)" stroke-width="7"/>
<ellipse cx="271" cy="772" rx="118" ry="138" fill="none" stroke="#505050" stroke-width="1.6" opacity="0.9"/>
<ellipse cx="271" cy="772" rx="126.4" ry="146.4" fill="none" stroke="#666" stroke-width="1.4"/>
<path d="M172,689 L190,668 L212,657 L244,650 L252,652 L233,726 L218,723Z" fill="#3a3a3a"/>
<path d="M177,688 L192,671 L212,661 L240,656 L219,719Z" fill="#e3e3e3"/>
<path d="M177,688 L192,671 L212,661 L222,659 L200,668 L183,684Z" fill="#8d8d8d"/>
<path d="M268,637 L292,634 L296,700 L287,711 L270,707 L267,690Z" fill="#2e2e2e"/>
<path d="M271,652 L281,650 L281,702 L271,700Z" fill="#d8d8d8"/>
<path d="M276,640 L289,639 L291,660 L284,648Z" fill="#6a6a6a"/>
<path d="M317,645 L346,666 L376,700 L300,728 L291,718Z" fill="#3a3a3a"/>
<path d="M320,652 L345,671 L370,700 L330,704 L305,700Z" fill="#4a4a4a"/>
<path d="M305,700 L330,704 L370,700 L330,718 L302,722Z" fill="#8e8e8e"/>
<path d="M294,716 L303,692 L312,686 L318,698 L316,721 L300,726Z" fill="#e3e3e3"/>
<path d="M312,742 L386,727 L392,733 L390,752 L318,766Z" fill="#3e3e3e"/>
<path d="M317,746 L384,733 L386,750 L320,761Z" fill="#a6a6a6"/>
<path d="M317,746 L326,745 L327,760 L320,761Z" fill="#dedede"/>
<path d="M362,738 L384,733 L386,750 L366,754Z" fill="#5a5a5a"/>
<path d="M311,778 L392,772 L388,800 L377,828 L364,856 L356,852Z" fill="#3a3a3a"/>
<path d="M316,782 L368,778 L360,845 L352,838Z" fill="#939393"/>
<path d="M368,778 L388,776 L384,800 L374,826 L362,848Z" fill="#6a6a6a"/>
<path d="M316,782 L328,781 L322,800Z" fill="#d8d8d8"/>
<path d="M287,816 L300,808 L345,868 L340,888 L330,886Z" fill="#2f2f2f"/>
<path d="M292,818 L300,814 L336,866 L334,880 L328,878Z" fill="#8a8a8a"/>
<path d="M296,802 L304,797 L333,831 L326,838Z" fill="#d6d6d6"/>
<path d="M240,828 L272,830 L306,906 L266,912 L250,885Z" fill="#3a3a3a"/>
<path d="M245,832 L270,835 L300,902 L268,906 L252,880Z" fill="#9a9a9a"/>
<path d="M245,832 L270,835 L278,855 L252,862Z" fill="#e3e3e3"/>
<path d="M190,824 L226,818 L232,828 L222,872 L192,872Z" fill="#2f2f2f"/>
<path d="M197,827 L222,825 L218,866 L196,862Z" fill="#e3e3e3"/>
<path d="M149,767 L202,766 L205,772 L176,842 L168,838 L155,812Z" fill="#3a3a3a"/>
<path d="M152,770 L198,770 L172,836 L158,810Z" fill="#e3e3e3"/>
<path d="M156,719 L203,724 L206,753 L196,757 L157,749Z" fill="#5a5a5a" stroke="#5a5a5a" stroke-width="3" stroke-linejoin="round"/>
<path d="M160,722 L200,727 L202,751 L161,746Z" fill="#a8a8a8" stroke="#a8a8a8" stroke-width="2" stroke-linejoin="round"/>
<path d="M163,725 L197,730 L198,748 L164,743Z" fill="#e3e3e3" stroke="#e3e3e3" stroke-width="3" stroke-linejoin="round"/>
<ellipse cx="263" cy="771" rx="52" ry="55" fill="url(#w2hub)"/>
<circle cx="261.5" cy="730" r="11.5" fill="#2a2a2a"/>
<circle cx="261.5" cy="730" r="8.5" fill="#4a4a4a"/>
<circle cx="262.5" cy="730" r="5" fill="#1c1c1c"/>
<ellipse cx="256.5" cy="729" rx="2.6" ry="3.6" fill="#e8e8e8"/>
<circle cx="293" cy="750" r="11.5" fill="#2a2a2a"/>
<circle cx="293" cy="750" r="8.5" fill="#4a4a4a"/>
<circle cx="294" cy="750" r="5" fill="#1c1c1c"/>
<ellipse cx="288" cy="749" rx="2.6" ry="3.6" fill="#e8e8e8"/>
<circle cx="291.7" cy="790" r="11.5" fill="#2a2a2a"/>
<circle cx="291.7" cy="790" r="8.5" fill="#4a4a4a"/>
<circle cx="292.7" cy="790" r="5" fill="#1c1c1c"/>
<ellipse cx="286.7" cy="789" rx="2.6" ry="3.6" fill="#e8e8e8"/>
<circle cx="258.7" cy="811.6" r="11.5" fill="#2a2a2a"/>
<circle cx="258.7" cy="811.6" r="8.5" fill="#4a4a4a"/>
<circle cx="259.7" cy="811.6" r="5" fill="#1c1c1c"/>
<ellipse cx="253.7" cy="810.6" rx="2.6" ry="3.6" fill="#e8e8e8"/>
<circle cx="231" cy="791" r="11.5" fill="#2a2a2a"/>
<circle cx="231" cy="791" r="8.5" fill="#4a4a4a"/>
<circle cx="232" cy="791" r="5" fill="#1c1c1c"/>
<ellipse cx="226" cy="790" rx="2.6" ry="3.6" fill="#e8e8e8"/>
<circle cx="231" cy="749" r="11.5" fill="#2a2a2a"/>
<circle cx="231" cy="749" r="8.5" fill="#4a4a4a"/>
<circle cx="232" cy="749" r="5" fill="#1c1c1c"/>
<ellipse cx="226" cy="748" rx="2.6" ry="3.6" fill="#e8e8e8"/>
<circle cx="264.4" cy="771.4" r="22.5" fill="#9a9a9a"/>
<circle cx="264.4" cy="771.4" r="21" fill="url(#w2cap)"/>
<path d="M246.39999999999998,766.5 L259.4,766.5 L260.4,763.5 L270.4,763.5 L269.4,766.5 L282.4,766.5 L278.4,774.5 L269.4,774.5 L268.4,777.5 L258.4,777.5 L259.4,774.5 L246.39999999999998,774.5 Z" fill="#d4a02a" stroke="#8a6a1a" stroke-width="0.6"/></g>
</svg>
</body></html>
